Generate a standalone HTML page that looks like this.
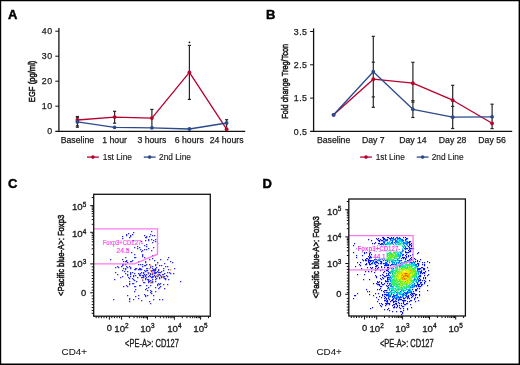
<!DOCTYPE html>
<html><head><meta charset="utf-8"><style>
html,body{margin:0;padding:0;background:#fff;}
svg{display:block;font-family:"Liberation Sans",sans-serif;filter:blur(0.35px);}
</style></head><body>
<svg width="520" height="365" viewBox="0 0 520 365" font-family="Liberation Sans, sans-serif">
<rect x="0" y="0" width="520" height="365" fill="#fff"/>
<text x="8.0" y="19.4" font-size="13" text-anchor="start" fill="#000" stroke="#000" stroke-width="0.45" font-weight="bold">A</text>
<text x="266.0" y="19.4" font-size="13" text-anchor="start" fill="#000" stroke="#000" stroke-width="0.45" font-weight="bold">B</text>
<text x="7.9" y="187.7" font-size="13" text-anchor="start" fill="#000" stroke="#000" stroke-width="0.45" font-weight="bold">C</text>
<text x="262.6" y="187.7" font-size="13" text-anchor="start" fill="#000" stroke="#000" stroke-width="0.45" font-weight="bold">D</text>
<line x1="58.9" y1="27.9" x2="58.9" y2="131.9" stroke="#111" stroke-width="1.3"/>
<line x1="55.3" y1="131.3" x2="245.2" y2="131.3" stroke="#111" stroke-width="1.3"/>
<line x1="55.3" y1="31.2" x2="58.9" y2="31.2" stroke="#111" stroke-width="1"/>
<text x="52.9" y="34.3" font-size="8.8" text-anchor="end" fill="#1a1a1a" stroke="#1a1a1a" stroke-width="0.25" letter-spacing="0.7">40</text>
<line x1="55.3" y1="56.2" x2="58.9" y2="56.2" stroke="#111" stroke-width="1"/>
<text x="52.9" y="59.300000000000004" font-size="8.8" text-anchor="end" fill="#1a1a1a" stroke="#1a1a1a" stroke-width="0.25" letter-spacing="0.7">30</text>
<line x1="55.3" y1="81.2" x2="58.9" y2="81.2" stroke="#111" stroke-width="1"/>
<text x="52.9" y="84.3" font-size="8.8" text-anchor="end" fill="#1a1a1a" stroke="#1a1a1a" stroke-width="0.25" letter-spacing="0.7">20</text>
<line x1="55.3" y1="106.2" x2="58.9" y2="106.2" stroke="#111" stroke-width="1"/>
<text x="52.9" y="109.3" font-size="8.8" text-anchor="end" fill="#1a1a1a" stroke="#1a1a1a" stroke-width="0.25" letter-spacing="0.7">10</text>
<text x="52.9" y="134.29999999999998" font-size="8.8" text-anchor="end" fill="#1a1a1a" stroke="#1a1a1a" stroke-width="0.25" letter-spacing="0.7">0</text>
<text transform="translate(34.6,81.4) rotate(-90)" font-size="9.6" text-anchor="middle" fill="#1a1a1a" stroke="#1a1a1a" stroke-width="0.55" textLength="41.6" lengthAdjust="spacingAndGlyphs">EGF (pg/ml)</text>
<text x="77.4" y="143.0" font-size="8.7" text-anchor="middle" fill="#1a1a1a" stroke="#1a1a1a" stroke-width="0.25">Baseline</text>
<text x="114.6" y="143.0" font-size="8.7" text-anchor="middle" fill="#1a1a1a" stroke="#1a1a1a" stroke-width="0.25">1 hour</text>
<text x="151.9" y="143.0" font-size="8.7" text-anchor="middle" fill="#1a1a1a" stroke="#1a1a1a" stroke-width="0.25">3 hours</text>
<text x="189.3" y="143.0" font-size="8.7" text-anchor="middle" fill="#1a1a1a" stroke="#1a1a1a" stroke-width="0.25">6 hours</text>
<text x="226.6" y="143.0" font-size="8.7" text-anchor="middle" fill="#1a1a1a" stroke="#1a1a1a" stroke-width="0.25">24 hours</text>
<line x1="77.4" y1="116.5" x2="77.4" y2="127.2" stroke="#262626" stroke-width="1.2"/>
<line x1="75.80000000000001" y1="116.5" x2="79.0" y2="116.5" stroke="#262626" stroke-width="1.2"/>
<line x1="75.80000000000001" y1="117.8" x2="79.0" y2="117.8" stroke="#262626" stroke-width="1.2"/>
<line x1="75.80000000000001" y1="125.9" x2="79.0" y2="125.9" stroke="#262626" stroke-width="1.2"/>
<line x1="75.80000000000001" y1="127.2" x2="79.0" y2="127.2" stroke="#262626" stroke-width="1.2"/>
<line x1="114.6" y1="111.3" x2="114.6" y2="123.2" stroke="#262626" stroke-width="1.2"/>
<line x1="113.0" y1="111.3" x2="116.19999999999999" y2="111.3" stroke="#262626" stroke-width="1.2"/>
<line x1="113.0" y1="123.2" x2="116.19999999999999" y2="123.2" stroke="#262626" stroke-width="1.2"/>
<line x1="151.9" y1="109.4" x2="151.9" y2="127.5" stroke="#262626" stroke-width="1.2"/>
<line x1="150.3" y1="109.4" x2="153.5" y2="109.4" stroke="#262626" stroke-width="1.2"/>
<line x1="189.4" y1="45.4" x2="189.4" y2="99.4" stroke="#262626" stroke-width="1.2"/>
<line x1="187.8" y1="45.4" x2="191.0" y2="45.4" stroke="#262626" stroke-width="1.2"/>
<line x1="187.8" y1="99.4" x2="191.0" y2="99.4" stroke="#262626" stroke-width="1.2"/>
<circle cx="189.4" cy="42.3" r="0.9" fill="#111"/>
<line x1="226.6" y1="119.7" x2="226.6" y2="127.5" stroke="#262626" stroke-width="1.2"/>
<line x1="225.0" y1="119.7" x2="228.2" y2="119.7" stroke="#262626" stroke-width="1.2"/>
<polyline points="77.4,120.0 114.6,117.1 151.9,118.1 189.4,72.4 226.6,129.2" fill="none" stroke="#b8002e" stroke-width="1.3" stroke-linejoin="round"/>
<circle cx="77.4" cy="120.0" r="1.9" fill="#b8002e"/>
<circle cx="114.6" cy="117.1" r="1.9" fill="#b8002e"/>
<circle cx="151.9" cy="118.1" r="1.9" fill="#b8002e"/>
<circle cx="189.4" cy="72.4" r="1.9" fill="#b8002e"/>
<circle cx="226.6" cy="129.2" r="1.9" fill="#b8002e"/>
<polyline points="77.4,121.9 114.6,127.3 151.9,127.8 189.4,129.0 226.6,123.0" fill="none" stroke="#2b4a8b" stroke-width="1.3" stroke-linejoin="round"/>
<circle cx="77.4" cy="121.9" r="1.9" fill="#2b4a8b"/>
<circle cx="114.6" cy="127.3" r="1.9" fill="#2b4a8b"/>
<circle cx="151.9" cy="127.8" r="1.9" fill="#2b4a8b"/>
<circle cx="189.4" cy="129.0" r="1.9" fill="#2b4a8b"/>
<circle cx="226.6" cy="123.0" r="1.9" fill="#2b4a8b"/>
<line x1="87.0" y1="157.1" x2="98.8" y2="157.1" stroke="#b8002e" stroke-width="1.3"/>
<circle cx="92.9" cy="157.1" r="1.8" fill="#b8002e"/>
<text x="102.8" y="160.4" font-size="8.3" text-anchor="start" fill="#1a1a1a" stroke="#1a1a1a" stroke-width="0.15">1st Line</text>
<line x1="143.8" y1="157.1" x2="155.60000000000002" y2="157.1" stroke="#2b4a8b" stroke-width="1.3"/>
<circle cx="149.70000000000002" cy="157.1" r="1.8" fill="#2b4a8b"/>
<text x="159.1" y="160.4" font-size="8.3" text-anchor="start" fill="#1a1a1a" stroke="#1a1a1a" stroke-width="0.15">2nd Line</text>
<line x1="313.6" y1="28.4" x2="313.6" y2="132.0" stroke="#111" stroke-width="1.3"/>
<line x1="310.1" y1="131.4" x2="512.2" y2="131.4" stroke="#111" stroke-width="1.3"/>
<line x1="310.1" y1="31.5" x2="313.6" y2="31.5" stroke="#111" stroke-width="1"/>
<text x="307.5" y="34.6" font-size="8.8" text-anchor="end" fill="#1a1a1a" stroke="#1a1a1a" stroke-width="0.25" letter-spacing="0.5">3.5</text>
<line x1="310.1" y1="64.8" x2="313.6" y2="64.8" stroke="#111" stroke-width="1"/>
<text x="307.5" y="67.89999999999999" font-size="8.8" text-anchor="end" fill="#1a1a1a" stroke="#1a1a1a" stroke-width="0.25" letter-spacing="0.5">2.5</text>
<line x1="310.1" y1="98.1" x2="313.6" y2="98.1" stroke="#111" stroke-width="1"/>
<text x="307.5" y="101.19999999999999" font-size="8.8" text-anchor="end" fill="#1a1a1a" stroke="#1a1a1a" stroke-width="0.25" letter-spacing="0.5">1.5</text>
<text x="307.5" y="134.49999999999997" font-size="8.8" text-anchor="end" fill="#1a1a1a" stroke="#1a1a1a" stroke-width="0.25" letter-spacing="0.5">0.5</text>
<text transform="translate(287.6,81.25) rotate(-90)" font-size="9.6" text-anchor="middle" fill="#1a1a1a" stroke="#1a1a1a" stroke-width="0.55" textLength="74.9" lengthAdjust="spacingAndGlyphs">Fold change Treg/Tcon</text>
<text x="333.6" y="143.0" font-size="8.7" text-anchor="middle" fill="#1a1a1a" stroke="#1a1a1a" stroke-width="0.25">Baseline</text>
<text x="373.3" y="143.0" font-size="8.7" text-anchor="middle" fill="#1a1a1a" stroke="#1a1a1a" stroke-width="0.25">Day 7</text>
<text x="412.9" y="143.0" font-size="8.7" text-anchor="middle" fill="#1a1a1a" stroke="#1a1a1a" stroke-width="0.25">Day 14</text>
<text x="452.6" y="143.0" font-size="8.7" text-anchor="middle" fill="#1a1a1a" stroke="#1a1a1a" stroke-width="0.25">Day 28</text>
<text x="492.1" y="143.0" font-size="8.7" text-anchor="middle" fill="#1a1a1a" stroke="#1a1a1a" stroke-width="0.25">Day 56</text>
<line x1="373.3" y1="36.3" x2="373.3" y2="107.3" stroke="#262626" stroke-width="1.2"/>
<line x1="371.7" y1="36.3" x2="374.90000000000003" y2="36.3" stroke="#262626" stroke-width="1.2"/>
<line x1="371.7" y1="62.2" x2="374.90000000000003" y2="62.2" stroke="#262626" stroke-width="1.2"/>
<line x1="371.7" y1="96.9" x2="374.90000000000003" y2="96.9" stroke="#262626" stroke-width="1.2"/>
<line x1="371.7" y1="107.3" x2="374.90000000000003" y2="107.3" stroke="#262626" stroke-width="1.2"/>
<line x1="412.9" y1="62.3" x2="412.9" y2="117.5" stroke="#262626" stroke-width="1.2"/>
<line x1="411.29999999999995" y1="62.3" x2="414.5" y2="62.3" stroke="#262626" stroke-width="1.2"/>
<line x1="411.29999999999995" y1="100.6" x2="414.5" y2="100.6" stroke="#262626" stroke-width="1.2"/>
<line x1="411.29999999999995" y1="102.1" x2="414.5" y2="102.1" stroke="#262626" stroke-width="1.2"/>
<line x1="411.29999999999995" y1="117.5" x2="414.5" y2="117.5" stroke="#262626" stroke-width="1.2"/>
<line x1="452.7" y1="85.3" x2="452.7" y2="128.5" stroke="#262626" stroke-width="1.2"/>
<line x1="451.09999999999997" y1="85.3" x2="454.3" y2="85.3" stroke="#262626" stroke-width="1.2"/>
<line x1="451.09999999999997" y1="106.4" x2="454.3" y2="106.4" stroke="#262626" stroke-width="1.2"/>
<line x1="451.09999999999997" y1="128.5" x2="454.3" y2="128.5" stroke="#262626" stroke-width="1.2"/>
<line x1="492.1" y1="104.2" x2="492.1" y2="128.6" stroke="#262626" stroke-width="1.2"/>
<line x1="490.5" y1="104.2" x2="493.70000000000005" y2="104.2" stroke="#262626" stroke-width="1.2"/>
<line x1="490.5" y1="128.6" x2="493.70000000000005" y2="128.6" stroke="#262626" stroke-width="1.2"/>
<polyline points="333.6,114.8 373.3,79.2 412.9,83.2 452.7,100.2 492.1,123.3" fill="none" stroke="#b8002e" stroke-width="1.3" stroke-linejoin="round"/>
<circle cx="333.6" cy="114.8" r="1.9" fill="#b8002e"/>
<circle cx="373.3" cy="79.2" r="1.9" fill="#b8002e"/>
<circle cx="412.9" cy="83.2" r="1.9" fill="#b8002e"/>
<circle cx="452.7" cy="100.2" r="1.9" fill="#b8002e"/>
<circle cx="492.1" cy="123.3" r="1.9" fill="#b8002e"/>
<polyline points="333.6,114.8 373.3,71.7 412.9,109.3 452.7,117.2 492.1,116.8" fill="none" stroke="#2b4a8b" stroke-width="1.3" stroke-linejoin="round"/>
<circle cx="333.6" cy="114.8" r="1.9" fill="#2b4a8b"/>
<circle cx="373.3" cy="71.7" r="1.9" fill="#2b4a8b"/>
<circle cx="412.9" cy="109.3" r="1.9" fill="#2b4a8b"/>
<circle cx="452.7" cy="117.2" r="1.9" fill="#2b4a8b"/>
<circle cx="492.1" cy="116.8" r="1.9" fill="#2b4a8b"/>
<line x1="360.1" y1="157.1" x2="371.90000000000003" y2="157.1" stroke="#b8002e" stroke-width="1.3"/>
<circle cx="366.0" cy="157.1" r="1.8" fill="#b8002e"/>
<text x="375.7" y="160.4" font-size="8.3" text-anchor="start" fill="#1a1a1a" stroke="#1a1a1a" stroke-width="0.15">1st Line</text>
<line x1="416.7" y1="157.1" x2="428.5" y2="157.1" stroke="#2b4a8b" stroke-width="1.3"/>
<circle cx="422.59999999999997" cy="157.1" r="1.8" fill="#2b4a8b"/>
<text x="431.7" y="160.4" font-size="8.3" text-anchor="start" fill="#1a1a1a" stroke="#1a1a1a" stroke-width="0.15">2nd Line</text>
<path d="M148 281h1.3v1.3h-1.3zM163 270h1.3v1.3h-1.3zM144 270h1.3v1.3h-1.3zM155 273h1.3v1.3h-1.3zM157 262h1.3v1.3h-1.3zM167 272h1.3v1.3h-1.3zM156 272h1.3v1.3h-1.3zM143 276h1.3v1.3h-1.3zM158 272h1.3v1.3h-1.3zM146 277h1.3v1.3h-1.3zM138 264h1.3v1.3h-1.3zM153 269h1.3v1.3h-1.3zM125 268h1.3v1.3h-1.3zM142 266h1.3v1.3h-1.3zM130 273h1.3v1.3h-1.3zM159 272h1.3v1.3h-1.3zM139 275h1.3v1.3h-1.3zM157 271h1.3v1.3h-1.3zM155 279h1.3v1.3h-1.3zM146 268h1.3v1.3h-1.3zM152 274h1.3v1.3h-1.3zM161 265h1.3v1.3h-1.3zM140 268h1.3v1.3h-1.3zM127 274h1.3v1.3h-1.3zM154 269h1.3v1.3h-1.3zM165 278h1.3v1.3h-1.3zM156 275h1.3v1.3h-1.3zM159 265h1.3v1.3h-1.3zM155 277h1.3v1.3h-1.3zM127 275h1.3v1.3h-1.3zM145 278h1.3v1.3h-1.3zM143 273h1.3v1.3h-1.3zM152 268h1.3v1.3h-1.3zM155 272h1.3v1.3h-1.3zM154 270h1.3v1.3h-1.3zM161 277h1.3v1.3h-1.3zM146 277h1.3v1.3h-1.3zM163 284h1.3v1.3h-1.3zM129 278h1.3v1.3h-1.3zM154 272h1.3v1.3h-1.3zM136 281h1.3v1.3h-1.3zM133 276h1.3v1.3h-1.3zM164 263h1.3v1.3h-1.3zM144 265h1.3v1.3h-1.3zM151 282h1.3v1.3h-1.3zM172 262h1.3v1.3h-1.3zM141 277h1.3v1.3h-1.3zM167 276h1.3v1.3h-1.3zM139 275h1.3v1.3h-1.3zM148 272h1.3v1.3h-1.3zM139 275h1.3v1.3h-1.3zM152 272h1.3v1.3h-1.3zM145 265h1.3v1.3h-1.3zM142 280h1.3v1.3h-1.3zM146 264h1.3v1.3h-1.3zM164 276h1.3v1.3h-1.3zM173 273h1.3v1.3h-1.3zM142 264h1.3v1.3h-1.3zM164 288h1.3v1.3h-1.3zM138 269h1.3v1.3h-1.3zM155 268h1.3v1.3h-1.3zM145 271h1.3v1.3h-1.3zM150 280h1.3v1.3h-1.3zM148 279h1.3v1.3h-1.3zM143 275h1.3v1.3h-1.3zM122 264h1.3v1.3h-1.3zM158 269h1.3v1.3h-1.3zM155 276h1.3v1.3h-1.3zM164 278h1.3v1.3h-1.3zM160 272h1.3v1.3h-1.3zM140 269h1.3v1.3h-1.3zM142 266h1.3v1.3h-1.3zM141 272h1.3v1.3h-1.3zM151 271h1.3v1.3h-1.3zM125 273h1.3v1.3h-1.3zM151 280h1.3v1.3h-1.3zM155 269h1.3v1.3h-1.3zM139 285h1.3v1.3h-1.3zM157 284h1.3v1.3h-1.3zM174 268h1.3v1.3h-1.3zM153 276h1.3v1.3h-1.3zM155 276h1.3v1.3h-1.3zM150 274h1.3v1.3h-1.3zM130 272h1.3v1.3h-1.3zM139 274h1.3v1.3h-1.3zM142 277h1.3v1.3h-1.3zM158 275h1.3v1.3h-1.3zM152 274h1.3v1.3h-1.3zM143 272h1.3v1.3h-1.3zM142 275h1.3v1.3h-1.3zM148 276h1.3v1.3h-1.3zM132 278h1.3v1.3h-1.3zM139 269h1.3v1.3h-1.3zM146 270h1.3v1.3h-1.3zM151 270h1.3v1.3h-1.3zM135 268h1.3v1.3h-1.3zM164 273h1.3v1.3h-1.3zM134 273h1.3v1.3h-1.3zM129 284h1.3v1.3h-1.3zM130 276h1.3v1.3h-1.3zM155 264h1.3v1.3h-1.3zM152 279h1.3v1.3h-1.3zM154 275h1.3v1.3h-1.3zM159 274h1.3v1.3h-1.3zM152 272h1.3v1.3h-1.3zM156 267h1.3v1.3h-1.3zM158 270h1.3v1.3h-1.3zM135 275h1.3v1.3h-1.3zM168 279h1.3v1.3h-1.3zM142 277h1.3v1.3h-1.3zM143 272h1.3v1.3h-1.3zM149 259h1.3v1.3h-1.3zM150 267h1.3v1.3h-1.3zM140 264h1.3v1.3h-1.3zM130 267h1.3v1.3h-1.3zM158 283h1.3v1.3h-1.3zM148 280h1.3v1.3h-1.3zM145 262h1.3v1.3h-1.3zM150 276h1.3v1.3h-1.3zM143 275h1.3v1.3h-1.3zM155 268h1.3v1.3h-1.3zM130 272h1.3v1.3h-1.3zM145 271h1.3v1.3h-1.3zM160 283h1.3v1.3h-1.3zM143 277h1.3v1.3h-1.3zM159 277h1.3v1.3h-1.3zM161 271h1.3v1.3h-1.3zM157 285h1.3v1.3h-1.3zM158 269h1.3v1.3h-1.3zM155 281h1.3v1.3h-1.3zM152 270h1.3v1.3h-1.3zM167 266h1.3v1.3h-1.3zM154 273h1.3v1.3h-1.3zM134 280h1.3v1.3h-1.3zM152 266h1.3v1.3h-1.3zM155 270h1.3v1.3h-1.3zM125 269h1.3v1.3h-1.3zM151 277h1.3v1.3h-1.3zM150 273h1.3v1.3h-1.3zM154 272h1.3v1.3h-1.3zM162 274h1.3v1.3h-1.3zM152 276h1.3v1.3h-1.3zM135 269h1.3v1.3h-1.3zM166 275h1.3v1.3h-1.3zM145 275h1.3v1.3h-1.3zM142 275h1.3v1.3h-1.3zM140 275h1.3v1.3h-1.3zM129 281h1.3v1.3h-1.3zM142 264h1.3v1.3h-1.3zM145 271h1.3v1.3h-1.3zM150 266h1.3v1.3h-1.3zM153 295h1.3v1.3h-1.3zM133 275h1.3v1.3h-1.3zM144 274h1.3v1.3h-1.3zM126 266h1.3v1.3h-1.3zM154 273h1.3v1.3h-1.3zM168 269h1.3v1.3h-1.3zM150 290h1.3v1.3h-1.3zM139 268h1.3v1.3h-1.3zM148 273h1.3v1.3h-1.3zM158 274h1.3v1.3h-1.3zM139 274h1.3v1.3h-1.3zM180 281h1.3v1.3h-1.3zM115 272h1.3v1.3h-1.3zM137 277h1.3v1.3h-1.3zM146 285h1.3v1.3h-1.3zM159 278h1.3v1.3h-1.3zM150 273h1.3v1.3h-1.3zM152 281h1.3v1.3h-1.3zM154 271h1.3v1.3h-1.3zM163 274h1.3v1.3h-1.3zM147 268h1.3v1.3h-1.3zM141 269h1.3v1.3h-1.3zM114 279h1.3v1.3h-1.3zM155 272h1.3v1.3h-1.3zM161 276h1.3v1.3h-1.3zM152 258h1.3v1.3h-1.3zM145 276h1.3v1.3h-1.3zM167 284h1.3v1.3h-1.3zM165 266h1.3v1.3h-1.3zM122 276h1.3v1.3h-1.3zM148 279h1.3v1.3h-1.3zM146 274h1.3v1.3h-1.3zM130 276h1.3v1.3h-1.3zM143 275h1.3v1.3h-1.3zM154 272h1.3v1.3h-1.3zM152 273h1.3v1.3h-1.3zM157 276h1.3v1.3h-1.3zM141 269h1.3v1.3h-1.3zM169 272h1.3v1.3h-1.3zM160 275h1.3v1.3h-1.3zM141 269h1.3v1.3h-1.3zM149 275h1.3v1.3h-1.3zM155 265h1.3v1.3h-1.3zM141 272h1.3v1.3h-1.3zM167 259h1.3v1.3h-1.3zM153 270h1.3v1.3h-1.3zM153 270h1.3v1.3h-1.3zM152 282h1.3v1.3h-1.3zM152 276h1.3v1.3h-1.3zM152 268h1.3v1.3h-1.3zM155 272h1.3v1.3h-1.3zM138 273h1.3v1.3h-1.3zM145 278h1.3v1.3h-1.3zM147 270h1.3v1.3h-1.3zM165 279h1.3v1.3h-1.3zM163 277h1.3v1.3h-1.3zM147 270h1.3v1.3h-1.3zM145 279h1.3v1.3h-1.3zM149 264h1.3v1.3h-1.3zM126 261h1.3v1.3h-1.3zM127 262h1.3v1.3h-1.3zM118 267h1.3v1.3h-1.3zM126 260h1.3v1.3h-1.3zM130 276h1.3v1.3h-1.3zM117 274h1.3v1.3h-1.3zM122 265h1.3v1.3h-1.3zM125 261h1.3v1.3h-1.3zM134 269h1.3v1.3h-1.3zM121 266h1.3v1.3h-1.3zM117 266h1.3v1.3h-1.3zM132 260h1.3v1.3h-1.3zM123 268h1.3v1.3h-1.3zM132 272h1.3v1.3h-1.3zM123 264h1.3v1.3h-1.3zM129 266h1.3v1.3h-1.3zM124 271h1.3v1.3h-1.3zM136 268h1.3v1.3h-1.3zM125 269h1.3v1.3h-1.3zM115 267h1.3v1.3h-1.3zM120 277h1.3v1.3h-1.3zM130 268h1.3v1.3h-1.3zM125 257h1.3v1.3h-1.3zM130 274h1.3v1.3h-1.3zM122 270h1.3v1.3h-1.3zM130 261h1.3v1.3h-1.3zM132 272h1.3v1.3h-1.3zM127 267h1.3v1.3h-1.3zM131 261h1.3v1.3h-1.3zM127 271h1.3v1.3h-1.3zM129 298h1.3v1.3h-1.3zM140 273h1.3v1.3h-1.3zM144 282h1.3v1.3h-1.3zM149 281h1.3v1.3h-1.3zM159 284h1.3v1.3h-1.3zM150 285h1.3v1.3h-1.3zM141 300h1.3v1.3h-1.3zM148 287h1.3v1.3h-1.3zM129 299h1.3v1.3h-1.3zM155 287h1.3v1.3h-1.3zM148 282h1.3v1.3h-1.3zM132 283h1.3v1.3h-1.3zM150 292h1.3v1.3h-1.3zM135 296h1.3v1.3h-1.3zM155 291h1.3v1.3h-1.3zM158 288h1.3v1.3h-1.3zM144 294h1.3v1.3h-1.3zM145 296h1.3v1.3h-1.3zM129 301h1.3v1.3h-1.3zM135 289h1.3v1.3h-1.3zM127 295h1.3v1.3h-1.3zM162 299h1.3v1.3h-1.3zM156 278h1.3v1.3h-1.3zM135 286h1.3v1.3h-1.3zM133 299h1.3v1.3h-1.3zM147 290h1.3v1.3h-1.3zM151 282h1.3v1.3h-1.3zM133 283h1.3v1.3h-1.3zM151 293h1.3v1.3h-1.3zM153 299h1.3v1.3h-1.3zM127 286h1.3v1.3h-1.3zM147 279h1.3v1.3h-1.3zM138 298h1.3v1.3h-1.3zM159 299h1.3v1.3h-1.3zM146 288h1.3v1.3h-1.3zM159 287h1.3v1.3h-1.3zM149 301h1.3v1.3h-1.3zM140 285h1.3v1.3h-1.3zM145 295h1.3v1.3h-1.3zM151 291h1.3v1.3h-1.3zM152 277h1.3v1.3h-1.3zM134 291h1.3v1.3h-1.3zM133 279h1.3v1.3h-1.3zM129 283h1.3v1.3h-1.3zM143 282h1.3v1.3h-1.3zM144 257h1.3v1.3h-1.3zM142 255h1.3v1.3h-1.3zM145 240h1.3v1.3h-1.3zM141 241h1.3v1.3h-1.3zM148 240h1.3v1.3h-1.3zM151 250h1.3v1.3h-1.3zM131 252h1.3v1.3h-1.3zM152 242h1.3v1.3h-1.3zM149 236h1.3v1.3h-1.3zM145 237h1.3v1.3h-1.3zM146 236h1.3v1.3h-1.3zM127 249h1.3v1.3h-1.3zM157 243h1.3v1.3h-1.3zM148 248h1.3v1.3h-1.3zM141 251h1.3v1.3h-1.3zM153 240h1.3v1.3h-1.3zM146 249h1.3v1.3h-1.3zM134 257h1.3v1.3h-1.3zM155 241h1.3v1.3h-1.3zM153 247h1.3v1.3h-1.3zM142 256h1.3v1.3h-1.3zM144 249h1.3v1.3h-1.3zM152 255h1.3v1.3h-1.3zM148 239h1.3v1.3h-1.3zM134 254h1.3v1.3h-1.3zM137 248h1.3v1.3h-1.3zM137 246h1.3v1.3h-1.3zM135 257h1.3v1.3h-1.3zM137 246h1.3v1.3h-1.3zM142 254h1.3v1.3h-1.3zM134 247h1.3v1.3h-1.3zM142 250h1.3v1.3h-1.3zM146 244h1.3v1.3h-1.3zM144 245h1.3v1.3h-1.3zM146 246h1.3v1.3h-1.3zM139 247h1.3v1.3h-1.3zM145 261h1.3v1.3h-1.3zM140 249h1.3v1.3h-1.3zM152 235h1.3v1.3h-1.3zM133 240h1.3v1.3h-1.3zM133 232h1.3v1.3h-1.3zM122 236h1.3v1.3h-1.3zM129 237h1.3v1.3h-1.3zM150 234h1.3v1.3h-1.3zM155 239h1.3v1.3h-1.3zM132 234h1.3v1.3h-1.3zM151 239h1.3v1.3h-1.3zM151 231h1.3v1.3h-1.3zM126 234h1.3v1.3h-1.3zM128 233h1.3v1.3h-1.3zM144 235h1.3v1.3h-1.3zM130 235h1.3v1.3h-1.3zM154 235h1.3v1.3h-1.3zM132 240h1.3v1.3h-1.3zM146 237h1.3v1.3h-1.3zM145 237h1.3v1.3h-1.3zM126 235h1.3v1.3h-1.3zM151 239h1.3v1.3h-1.3zM130 236h1.3v1.3h-1.3zM122 238h1.3v1.3h-1.3zM170 261h1.3v1.3h-1.3zM150 303h1.3v1.3h-1.3zM138 295h1.3v1.3h-1.3zM126 285h1.3v1.3h-1.3zM170 273h1.3v1.3h-1.3zM160 286h1.3v1.3h-1.3zM162 276h1.3v1.3h-1.3zM123 261h1.3v1.3h-1.3zM138 261h1.3v1.3h-1.3zM168 257h1.3v1.3h-1.3zM125 264h1.3v1.3h-1.3zM163 268h1.3v1.3h-1.3zM145 289h1.3v1.3h-1.3zM123 286h1.3v1.3h-1.3zM134 286h1.3v1.3h-1.3zM113 299h1.3v1.3h-1.3zM154 260h1.3v1.3h-1.3zM157 276h1.3v1.3h-1.3zM110 259h1.3v1.3h-1.3zM128 277h1.3v1.3h-1.3zM160 259h1.3v1.3h-1.3zM122 259h1.3v1.3h-1.3zM145 261h1.3v1.3h-1.3zM163 276h1.3v1.3h-1.3zM147 295h1.3v1.3h-1.3z" fill="#2a2af2"/>
<path d="M153 271h1.4v1.4h-1.4zM142 279h1.4v1.4h-1.4zM147 272h1.4v1.4h-1.4zM150 270h1.4v1.4h-1.4zM162 276h1.4v1.4h-1.4zM149 268h1.4v1.4h-1.4zM151 280h1.4v1.4h-1.4zM156 275h1.4v1.4h-1.4zM152 272h1.4v1.4h-1.4zM157 263h1.4v1.4h-1.4zM170 269h1.4v1.4h-1.4zM150 282h1.4v1.4h-1.4zM157 274h1.4v1.4h-1.4zM150 265h1.4v1.4h-1.4z" fill="#ff9640"/>
<path d="M93.7 228.8H157.5V254.2L134.5 263.8H93.7" fill="none" stroke="#ff78f2" stroke-width="1.3"/>
<text x="123" y="245.0" font-size="6.6" text-anchor="middle" fill="#ff50ee" stroke="#ff50ee" stroke-width="0.2" textLength="40.6" lengthAdjust="spacingAndGlyphs">Foxp3+CD127-</text>
<text x="123" y="252.9" font-size="6.6" text-anchor="middle" fill="#ff50ee" stroke="#ff50ee" stroke-width="0.2">24.5</text>
<path d="M382 237h1.15v1.15h-1.15zM383 237h1.15v1.15h-1.15zM387 237h1.15v1.15h-1.15zM388 237h1.15v1.15h-1.15zM391 237h1.15v1.15h-1.15zM393 237h1.15v1.15h-1.15zM403 237h1.15v1.15h-1.15zM405 237h1.15v1.15h-1.15zM376 238h1.15v1.15h-1.15zM378 238h1.15v1.15h-1.15zM383 238h1.15v1.15h-1.15zM384 238h1.15v1.15h-1.15zM389 238h1.15v1.15h-1.15zM390 238h1.15v1.15h-1.15zM406 238h1.15v1.15h-1.15zM407 238h1.15v1.15h-1.15zM368 239h1.15v1.15h-1.15zM377 239h1.15v1.15h-1.15zM380 239h1.15v1.15h-1.15zM383 239h1.15v1.15h-1.15zM387 239h1.15v1.15h-1.15zM405 239h1.15v1.15h-1.15zM371 240h1.15v1.15h-1.15zM378 240h1.15v1.15h-1.15zM379 240h1.15v1.15h-1.15zM381 240h1.15v1.15h-1.15zM382 240h1.15v1.15h-1.15zM386 240h1.15v1.15h-1.15zM392 240h1.15v1.15h-1.15zM379 241h1.15v1.15h-1.15zM409 241h1.15v1.15h-1.15zM410 241h1.15v1.15h-1.15zM375 242h1.15v1.15h-1.15zM408 242h1.15v1.15h-1.15zM409 242h1.15v1.15h-1.15zM354 243h1.15v1.15h-1.15zM372 243h1.15v1.15h-1.15zM374 243h1.15v1.15h-1.15zM378 243h1.15v1.15h-1.15zM379 243h1.15v1.15h-1.15zM381 243h1.15v1.15h-1.15zM382 243h1.15v1.15h-1.15zM411 243h1.15v1.15h-1.15zM380 244h1.15v1.15h-1.15zM409 244h1.15v1.15h-1.15zM410 244h1.15v1.15h-1.15zM353 245h1.15v1.15h-1.15zM377 245h1.15v1.15h-1.15zM409 245h1.15v1.15h-1.15zM411 245h1.15v1.15h-1.15zM359 246h1.15v1.15h-1.15zM369 246h1.15v1.15h-1.15zM371 246h1.15v1.15h-1.15zM372 246h1.15v1.15h-1.15zM375 246h1.15v1.15h-1.15zM376 246h1.15v1.15h-1.15zM378 246h1.15v1.15h-1.15zM379 246h1.15v1.15h-1.15zM381 246h1.15v1.15h-1.15zM408 246h1.15v1.15h-1.15zM411 246h1.15v1.15h-1.15zM365 247h1.15v1.15h-1.15zM376 247h1.15v1.15h-1.15zM378 247h1.15v1.15h-1.15zM383 247h1.15v1.15h-1.15zM384 247h1.15v1.15h-1.15zM409 247h1.15v1.15h-1.15zM356 248h1.15v1.15h-1.15zM363 248h1.15v1.15h-1.15zM364 248h1.15v1.15h-1.15zM368 248h1.15v1.15h-1.15zM370 248h1.15v1.15h-1.15zM371 248h1.15v1.15h-1.15zM375 248h1.15v1.15h-1.15zM377 248h1.15v1.15h-1.15zM382 248h1.15v1.15h-1.15zM406 248h1.15v1.15h-1.15zM407 248h1.15v1.15h-1.15zM410 248h1.15v1.15h-1.15zM411 248h1.15v1.15h-1.15zM412 248h1.15v1.15h-1.15zM413 248h1.15v1.15h-1.15zM363 249h1.15v1.15h-1.15zM364 249h1.15v1.15h-1.15zM368 249h1.15v1.15h-1.15zM373 249h1.15v1.15h-1.15zM377 249h1.15v1.15h-1.15zM379 249h1.15v1.15h-1.15zM383 249h1.15v1.15h-1.15zM368 250h1.15v1.15h-1.15zM369 250h1.15v1.15h-1.15zM375 250h1.15v1.15h-1.15zM378 250h1.15v1.15h-1.15zM381 250h1.15v1.15h-1.15zM383 250h1.15v1.15h-1.15zM408 250h1.15v1.15h-1.15zM410 250h1.15v1.15h-1.15zM362 251h1.15v1.15h-1.15zM374 251h1.15v1.15h-1.15zM376 251h1.15v1.15h-1.15zM379 251h1.15v1.15h-1.15zM380 251h1.15v1.15h-1.15zM405 251h1.15v1.15h-1.15zM409 251h1.15v1.15h-1.15zM410 251h1.15v1.15h-1.15zM353 252h1.15v1.15h-1.15zM364 252h1.15v1.15h-1.15zM366 252h1.15v1.15h-1.15zM370 252h1.15v1.15h-1.15zM377 252h1.15v1.15h-1.15zM378 252h1.15v1.15h-1.15zM380 252h1.15v1.15h-1.15zM381 252h1.15v1.15h-1.15zM405 252h1.15v1.15h-1.15zM406 252h1.15v1.15h-1.15zM407 252h1.15v1.15h-1.15zM408 252h1.15v1.15h-1.15zM418 252h1.15v1.15h-1.15zM364 253h1.15v1.15h-1.15zM369 253h1.15v1.15h-1.15zM373 253h1.15v1.15h-1.15zM374 253h1.15v1.15h-1.15zM375 253h1.15v1.15h-1.15zM381 253h1.15v1.15h-1.15zM417 253h1.15v1.15h-1.15zM369 254h1.15v1.15h-1.15zM371 254h1.15v1.15h-1.15zM377 254h1.15v1.15h-1.15zM403 254h1.15v1.15h-1.15zM406 254h1.15v1.15h-1.15zM412 254h1.15v1.15h-1.15zM356 255h1.15v1.15h-1.15zM362 255h1.15v1.15h-1.15zM369 255h1.15v1.15h-1.15zM373 255h1.15v1.15h-1.15zM377 255h1.15v1.15h-1.15zM380 255h1.15v1.15h-1.15zM402 255h1.15v1.15h-1.15zM405 255h1.15v1.15h-1.15zM408 255h1.15v1.15h-1.15zM410 255h1.15v1.15h-1.15zM368 256h1.15v1.15h-1.15zM370 256h1.15v1.15h-1.15zM376 256h1.15v1.15h-1.15zM406 256h1.15v1.15h-1.15zM408 256h1.15v1.15h-1.15zM356 257h1.15v1.15h-1.15zM369 257h1.15v1.15h-1.15zM370 257h1.15v1.15h-1.15zM371 257h1.15v1.15h-1.15zM402 257h1.15v1.15h-1.15zM403 257h1.15v1.15h-1.15zM404 257h1.15v1.15h-1.15zM406 257h1.15v1.15h-1.15zM411 257h1.15v1.15h-1.15zM366 258h1.15v1.15h-1.15zM367 258h1.15v1.15h-1.15zM369 258h1.15v1.15h-1.15zM374 258h1.15v1.15h-1.15zM403 258h1.15v1.15h-1.15zM405 258h1.15v1.15h-1.15zM410 258h1.15v1.15h-1.15zM414 258h1.15v1.15h-1.15zM362 259h1.15v1.15h-1.15zM365 259h1.15v1.15h-1.15zM368 259h1.15v1.15h-1.15zM374 259h1.15v1.15h-1.15zM405 259h1.15v1.15h-1.15zM409 259h1.15v1.15h-1.15zM411 259h1.15v1.15h-1.15zM415 259h1.15v1.15h-1.15zM420 259h1.15v1.15h-1.15zM363 260h1.15v1.15h-1.15zM365 260h1.15v1.15h-1.15zM366 260h1.15v1.15h-1.15zM368 260h1.15v1.15h-1.15zM369 260h1.15v1.15h-1.15zM370 260h1.15v1.15h-1.15zM371 260h1.15v1.15h-1.15zM407 260h1.15v1.15h-1.15zM410 260h1.15v1.15h-1.15zM417 260h1.15v1.15h-1.15zM368 261h1.15v1.15h-1.15zM370 261h1.15v1.15h-1.15zM376 261h1.15v1.15h-1.15zM380 261h1.15v1.15h-1.15zM381 261h1.15v1.15h-1.15zM415 261h1.15v1.15h-1.15zM417 261h1.15v1.15h-1.15zM419 261h1.15v1.15h-1.15zM427 261h1.15v1.15h-1.15zM357 262h1.15v1.15h-1.15zM360 262h1.15v1.15h-1.15zM368 262h1.15v1.15h-1.15zM369 262h1.15v1.15h-1.15zM376 262h1.15v1.15h-1.15zM377 262h1.15v1.15h-1.15zM381 262h1.15v1.15h-1.15zM422 262h1.15v1.15h-1.15zM424 262h1.15v1.15h-1.15zM429 262h1.15v1.15h-1.15zM366 263h1.15v1.15h-1.15zM369 263h1.15v1.15h-1.15zM371 263h1.15v1.15h-1.15zM374 263h1.15v1.15h-1.15zM378 263h1.15v1.15h-1.15zM380 263h1.15v1.15h-1.15zM381 263h1.15v1.15h-1.15zM383 263h1.15v1.15h-1.15zM417 263h1.15v1.15h-1.15zM418 263h1.15v1.15h-1.15zM359 264h1.15v1.15h-1.15zM365 264h1.15v1.15h-1.15zM366 264h1.15v1.15h-1.15zM369 264h1.15v1.15h-1.15zM370 264h1.15v1.15h-1.15zM375 264h1.15v1.15h-1.15zM385 264h1.15v1.15h-1.15zM388 264h1.15v1.15h-1.15zM391 264h1.15v1.15h-1.15zM392 264h1.15v1.15h-1.15zM418 264h1.15v1.15h-1.15zM422 264h1.15v1.15h-1.15zM424 264h1.15v1.15h-1.15zM360 265h1.15v1.15h-1.15zM376 265h1.15v1.15h-1.15zM377 265h1.15v1.15h-1.15zM384 265h1.15v1.15h-1.15zM385 265h1.15v1.15h-1.15zM386 265h1.15v1.15h-1.15zM387 265h1.15v1.15h-1.15zM388 265h1.15v1.15h-1.15zM390 265h1.15v1.15h-1.15zM418 265h1.15v1.15h-1.15zM424 265h1.15v1.15h-1.15zM355 266h1.15v1.15h-1.15zM375 266h1.15v1.15h-1.15zM376 266h1.15v1.15h-1.15zM381 266h1.15v1.15h-1.15zM417 266h1.15v1.15h-1.15zM367 267h1.15v1.15h-1.15zM370 267h1.15v1.15h-1.15zM372 267h1.15v1.15h-1.15zM378 267h1.15v1.15h-1.15zM381 267h1.15v1.15h-1.15zM384 267h1.15v1.15h-1.15zM387 267h1.15v1.15h-1.15zM388 267h1.15v1.15h-1.15zM391 267h1.15v1.15h-1.15zM421 267h1.15v1.15h-1.15zM422 267h1.15v1.15h-1.15zM427 267h1.15v1.15h-1.15zM361 268h1.15v1.15h-1.15zM371 268h1.15v1.15h-1.15zM375 268h1.15v1.15h-1.15zM377 268h1.15v1.15h-1.15zM387 268h1.15v1.15h-1.15zM419 268h1.15v1.15h-1.15zM420 268h1.15v1.15h-1.15zM423 268h1.15v1.15h-1.15zM424 268h1.15v1.15h-1.15zM376 269h1.15v1.15h-1.15zM382 269h1.15v1.15h-1.15zM387 269h1.15v1.15h-1.15zM388 269h1.15v1.15h-1.15zM418 269h1.15v1.15h-1.15zM419 269h1.15v1.15h-1.15zM423 269h1.15v1.15h-1.15zM424 269h1.15v1.15h-1.15zM375 270h1.15v1.15h-1.15zM380 270h1.15v1.15h-1.15zM386 270h1.15v1.15h-1.15zM387 270h1.15v1.15h-1.15zM421 270h1.15v1.15h-1.15zM428 270h1.15v1.15h-1.15zM365 271h1.15v1.15h-1.15zM368 271h1.15v1.15h-1.15zM371 271h1.15v1.15h-1.15zM384 271h1.15v1.15h-1.15zM388 271h1.15v1.15h-1.15zM421 271h1.15v1.15h-1.15zM425 271h1.15v1.15h-1.15zM374 272h1.15v1.15h-1.15zM383 272h1.15v1.15h-1.15zM389 272h1.15v1.15h-1.15zM420 272h1.15v1.15h-1.15zM421 272h1.15v1.15h-1.15zM423 272h1.15v1.15h-1.15zM424 272h1.15v1.15h-1.15zM386 273h1.15v1.15h-1.15zM388 273h1.15v1.15h-1.15zM420 273h1.15v1.15h-1.15zM422 273h1.15v1.15h-1.15zM424 273h1.15v1.15h-1.15zM357 274h1.15v1.15h-1.15zM364 274h1.15v1.15h-1.15zM382 274h1.15v1.15h-1.15zM388 274h1.15v1.15h-1.15zM428 274h1.15v1.15h-1.15zM375 275h1.15v1.15h-1.15zM380 275h1.15v1.15h-1.15zM383 275h1.15v1.15h-1.15zM386 275h1.15v1.15h-1.15zM387 275h1.15v1.15h-1.15zM420 275h1.15v1.15h-1.15zM424 275h1.15v1.15h-1.15zM427 275h1.15v1.15h-1.15zM376 276h1.15v1.15h-1.15zM384 276h1.15v1.15h-1.15zM385 276h1.15v1.15h-1.15zM419 276h1.15v1.15h-1.15zM420 276h1.15v1.15h-1.15zM376 277h1.15v1.15h-1.15zM382 277h1.15v1.15h-1.15zM387 277h1.15v1.15h-1.15zM388 277h1.15v1.15h-1.15zM423 277h1.15v1.15h-1.15zM425 277h1.15v1.15h-1.15zM380 278h1.15v1.15h-1.15zM383 278h1.15v1.15h-1.15zM387 278h1.15v1.15h-1.15zM419 278h1.15v1.15h-1.15zM423 278h1.15v1.15h-1.15zM425 278h1.15v1.15h-1.15zM363 279h1.15v1.15h-1.15zM369 279h1.15v1.15h-1.15zM381 279h1.15v1.15h-1.15zM387 279h1.15v1.15h-1.15zM420 279h1.15v1.15h-1.15zM385 280h1.15v1.15h-1.15zM419 280h1.15v1.15h-1.15zM420 280h1.15v1.15h-1.15zM422 280h1.15v1.15h-1.15zM424 280h1.15v1.15h-1.15zM429 280h1.15v1.15h-1.15zM377 281h1.15v1.15h-1.15zM379 281h1.15v1.15h-1.15zM385 281h1.15v1.15h-1.15zM386 281h1.15v1.15h-1.15zM387 281h1.15v1.15h-1.15zM425 281h1.15v1.15h-1.15zM377 282h1.15v1.15h-1.15zM378 282h1.15v1.15h-1.15zM381 282h1.15v1.15h-1.15zM420 282h1.15v1.15h-1.15zM421 282h1.15v1.15h-1.15zM424 282h1.15v1.15h-1.15zM373 283h1.15v1.15h-1.15zM376 283h1.15v1.15h-1.15zM381 283h1.15v1.15h-1.15zM384 283h1.15v1.15h-1.15zM387 283h1.15v1.15h-1.15zM417 283h1.15v1.15h-1.15zM424 283h1.15v1.15h-1.15zM377 284h1.15v1.15h-1.15zM378 284h1.15v1.15h-1.15zM379 284h1.15v1.15h-1.15zM382 284h1.15v1.15h-1.15zM383 284h1.15v1.15h-1.15zM417 284h1.15v1.15h-1.15zM418 284h1.15v1.15h-1.15zM419 284h1.15v1.15h-1.15zM421 284h1.15v1.15h-1.15zM422 284h1.15v1.15h-1.15zM379 285h1.15v1.15h-1.15zM386 285h1.15v1.15h-1.15zM388 285h1.15v1.15h-1.15zM415 285h1.15v1.15h-1.15zM416 285h1.15v1.15h-1.15zM418 285h1.15v1.15h-1.15zM421 285h1.15v1.15h-1.15zM427 285h1.15v1.15h-1.15zM380 286h1.15v1.15h-1.15zM381 286h1.15v1.15h-1.15zM387 286h1.15v1.15h-1.15zM416 286h1.15v1.15h-1.15zM418 286h1.15v1.15h-1.15zM419 286h1.15v1.15h-1.15zM420 286h1.15v1.15h-1.15zM388 287h1.15v1.15h-1.15zM380 288h1.15v1.15h-1.15zM417 288h1.15v1.15h-1.15zM419 288h1.15v1.15h-1.15zM366 289h1.15v1.15h-1.15zM377 289h1.15v1.15h-1.15zM379 289h1.15v1.15h-1.15zM412 289h1.15v1.15h-1.15zM415 289h1.15v1.15h-1.15zM416 289h1.15v1.15h-1.15zM381 290h1.15v1.15h-1.15zM384 290h1.15v1.15h-1.15zM385 290h1.15v1.15h-1.15zM386 290h1.15v1.15h-1.15zM415 290h1.15v1.15h-1.15zM416 290h1.15v1.15h-1.15zM427 290h1.15v1.15h-1.15zM367 291h1.15v1.15h-1.15zM369 291h1.15v1.15h-1.15zM383 291h1.15v1.15h-1.15zM413 291h1.15v1.15h-1.15zM419 291h1.15v1.15h-1.15zM384 292h1.15v1.15h-1.15zM357 293h1.15v1.15h-1.15zM375 293h1.15v1.15h-1.15zM378 293h1.15v1.15h-1.15zM403 293h1.15v1.15h-1.15zM405 293h1.15v1.15h-1.15zM411 293h1.15v1.15h-1.15zM412 293h1.15v1.15h-1.15zM413 293h1.15v1.15h-1.15zM414 293h1.15v1.15h-1.15zM369 294h1.15v1.15h-1.15zM382 294h1.15v1.15h-1.15zM384 294h1.15v1.15h-1.15zM385 294h1.15v1.15h-1.15zM410 294h1.15v1.15h-1.15zM412 294h1.15v1.15h-1.15zM415 294h1.15v1.15h-1.15zM416 294h1.15v1.15h-1.15zM419 294h1.15v1.15h-1.15zM354 295h1.15v1.15h-1.15zM355 295h1.15v1.15h-1.15zM373 295h1.15v1.15h-1.15zM382 295h1.15v1.15h-1.15zM386 295h1.15v1.15h-1.15zM408 295h1.15v1.15h-1.15zM411 295h1.15v1.15h-1.15zM413 295h1.15v1.15h-1.15zM415 295h1.15v1.15h-1.15zM419 295h1.15v1.15h-1.15zM379 296h1.15v1.15h-1.15zM384 296h1.15v1.15h-1.15zM392 296h1.15v1.15h-1.15zM406 296h1.15v1.15h-1.15zM408 296h1.15v1.15h-1.15zM412 296h1.15v1.15h-1.15zM376 297h1.15v1.15h-1.15zM381 297h1.15v1.15h-1.15zM385 297h1.15v1.15h-1.15zM388 297h1.15v1.15h-1.15zM400 297h1.15v1.15h-1.15zM408 297h1.15v1.15h-1.15zM411 297h1.15v1.15h-1.15zM415 297h1.15v1.15h-1.15zM417 297h1.15v1.15h-1.15zM353 298h1.15v1.15h-1.15zM384 298h1.15v1.15h-1.15zM386 298h1.15v1.15h-1.15zM388 298h1.15v1.15h-1.15zM393 298h1.15v1.15h-1.15zM396 298h1.15v1.15h-1.15zM403 298h1.15v1.15h-1.15zM404 298h1.15v1.15h-1.15zM407 298h1.15v1.15h-1.15zM409 298h1.15v1.15h-1.15zM414 298h1.15v1.15h-1.15zM378 299h1.15v1.15h-1.15zM386 299h1.15v1.15h-1.15zM389 299h1.15v1.15h-1.15zM392 299h1.15v1.15h-1.15zM400 299h1.15v1.15h-1.15zM401 299h1.15v1.15h-1.15zM414 299h1.15v1.15h-1.15zM384 300h1.15v1.15h-1.15zM385 300h1.15v1.15h-1.15zM387 300h1.15v1.15h-1.15zM391 300h1.15v1.15h-1.15zM392 300h1.15v1.15h-1.15zM398 300h1.15v1.15h-1.15zM402 300h1.15v1.15h-1.15zM403 300h1.15v1.15h-1.15zM404 300h1.15v1.15h-1.15zM405 300h1.15v1.15h-1.15zM410 300h1.15v1.15h-1.15zM411 300h1.15v1.15h-1.15zM418 300h1.15v1.15h-1.15zM377 301h1.15v1.15h-1.15zM386 301h1.15v1.15h-1.15zM387 301h1.15v1.15h-1.15zM390 301h1.15v1.15h-1.15zM393 301h1.15v1.15h-1.15zM394 301h1.15v1.15h-1.15zM396 301h1.15v1.15h-1.15zM403 301h1.15v1.15h-1.15zM407 301h1.15v1.15h-1.15zM409 301h1.15v1.15h-1.15zM415 301h1.15v1.15h-1.15zM393 302h1.15v1.15h-1.15zM398 302h1.15v1.15h-1.15zM403 302h1.15v1.15h-1.15zM379 303h1.15v1.15h-1.15zM381 303h1.15v1.15h-1.15zM385 303h1.15v1.15h-1.15zM386 303h1.15v1.15h-1.15zM387 303h1.15v1.15h-1.15zM388 303h1.15v1.15h-1.15zM389 303h1.15v1.15h-1.15zM395 303h1.15v1.15h-1.15zM396 303h1.15v1.15h-1.15zM399 303h1.15v1.15h-1.15zM401 303h1.15v1.15h-1.15zM403 303h1.15v1.15h-1.15zM406 303h1.15v1.15h-1.15zM407 303h1.15v1.15h-1.15zM382 304h1.15v1.15h-1.15zM386 304h1.15v1.15h-1.15zM389 304h1.15v1.15h-1.15zM393 304h1.15v1.15h-1.15zM394 304h1.15v1.15h-1.15zM396 304h1.15v1.15h-1.15zM404 304h1.15v1.15h-1.15zM405 304h1.15v1.15h-1.15zM410 304h1.15v1.15h-1.15zM380 305h1.15v1.15h-1.15zM385 305h1.15v1.15h-1.15zM392 305h1.15v1.15h-1.15zM397 305h1.15v1.15h-1.15zM399 305h1.15v1.15h-1.15zM401 305h1.15v1.15h-1.15zM381 306h1.15v1.15h-1.15zM394 306h1.15v1.15h-1.15zM397 306h1.15v1.15h-1.15zM402 306h1.15v1.15h-1.15zM403 306h1.15v1.15h-1.15zM372 307h1.15v1.15h-1.15zM393 307h1.15v1.15h-1.15zM394 307h1.15v1.15h-1.15zM396 307h1.15v1.15h-1.15zM399 307h1.15v1.15h-1.15zM411 307h1.15v1.15h-1.15zM370 308h1.15v1.15h-1.15zM388 308h1.15v1.15h-1.15zM400 308h1.15v1.15h-1.15zM403 308h1.15v1.15h-1.15zM407 308h1.15v1.15h-1.15zM384 309h1.15v1.15h-1.15zM387 309h1.15v1.15h-1.15zM407 309h1.15v1.15h-1.15zM389 310h1.15v1.15h-1.15zM403 310h1.15v1.15h-1.15zM392 311h1.15v1.15h-1.15zM396 311h1.15v1.15h-1.15zM400 311h1.15v1.15h-1.15zM401 311h1.15v1.15h-1.15zM402 312h1.15v1.15h-1.15zM402 313h1.15v1.15h-1.15zM401 314h1.15v1.15h-1.15z" fill="#0a0aff"/>
<path d="M396 237h1.15v1.15h-1.15zM397 237h1.15v1.15h-1.15zM399 237h1.15v1.15h-1.15zM391 238h1.15v1.15h-1.15zM392 238h1.15v1.15h-1.15zM393 238h1.15v1.15h-1.15zM395 238h1.15v1.15h-1.15zM397 238h1.15v1.15h-1.15zM398 238h1.15v1.15h-1.15zM399 238h1.15v1.15h-1.15zM400 238h1.15v1.15h-1.15zM384 239h1.15v1.15h-1.15zM385 239h1.15v1.15h-1.15zM390 239h1.15v1.15h-1.15zM393 239h1.15v1.15h-1.15zM394 239h1.15v1.15h-1.15zM395 239h1.15v1.15h-1.15zM401 239h1.15v1.15h-1.15zM402 239h1.15v1.15h-1.15zM406 239h1.15v1.15h-1.15zM385 240h1.15v1.15h-1.15zM387 240h1.15v1.15h-1.15zM395 240h1.15v1.15h-1.15zM402 240h1.15v1.15h-1.15zM403 240h1.15v1.15h-1.15zM405 240h1.15v1.15h-1.15zM383 241h1.15v1.15h-1.15zM384 241h1.15v1.15h-1.15zM392 241h1.15v1.15h-1.15zM395 241h1.15v1.15h-1.15zM396 241h1.15v1.15h-1.15zM407 241h1.15v1.15h-1.15zM383 242h1.15v1.15h-1.15zM384 242h1.15v1.15h-1.15zM391 242h1.15v1.15h-1.15zM392 242h1.15v1.15h-1.15zM394 242h1.15v1.15h-1.15zM403 242h1.15v1.15h-1.15zM407 242h1.15v1.15h-1.15zM384 243h1.15v1.15h-1.15zM392 243h1.15v1.15h-1.15zM404 243h1.15v1.15h-1.15zM405 243h1.15v1.15h-1.15zM407 243h1.15v1.15h-1.15zM409 243h1.15v1.15h-1.15zM381 244h1.15v1.15h-1.15zM383 244h1.15v1.15h-1.15zM385 244h1.15v1.15h-1.15zM406 244h1.15v1.15h-1.15zM379 245h1.15v1.15h-1.15zM381 245h1.15v1.15h-1.15zM383 245h1.15v1.15h-1.15zM385 245h1.15v1.15h-1.15zM394 245h1.15v1.15h-1.15zM407 245h1.15v1.15h-1.15zM382 246h1.15v1.15h-1.15zM387 246h1.15v1.15h-1.15zM405 246h1.15v1.15h-1.15zM400 247h1.15v1.15h-1.15zM405 247h1.15v1.15h-1.15zM404 248h1.15v1.15h-1.15zM405 248h1.15v1.15h-1.15zM409 248h1.15v1.15h-1.15zM402 249h1.15v1.15h-1.15zM405 249h1.15v1.15h-1.15zM409 249h1.15v1.15h-1.15zM385 250h1.15v1.15h-1.15zM402 250h1.15v1.15h-1.15zM383 251h1.15v1.15h-1.15zM401 251h1.15v1.15h-1.15zM402 251h1.15v1.15h-1.15zM400 252h1.15v1.15h-1.15zM382 253h1.15v1.15h-1.15zM401 253h1.15v1.15h-1.15zM402 254h1.15v1.15h-1.15zM400 255h1.15v1.15h-1.15zM379 256h1.15v1.15h-1.15zM380 256h1.15v1.15h-1.15zM375 257h1.15v1.15h-1.15zM377 257h1.15v1.15h-1.15zM379 257h1.15v1.15h-1.15zM381 257h1.15v1.15h-1.15zM385 257h1.15v1.15h-1.15zM375 258h1.15v1.15h-1.15zM376 258h1.15v1.15h-1.15zM379 258h1.15v1.15h-1.15zM380 258h1.15v1.15h-1.15zM401 258h1.15v1.15h-1.15zM375 259h1.15v1.15h-1.15zM376 259h1.15v1.15h-1.15zM380 259h1.15v1.15h-1.15zM382 259h1.15v1.15h-1.15zM397 259h1.15v1.15h-1.15zM372 260h1.15v1.15h-1.15zM373 260h1.15v1.15h-1.15zM379 260h1.15v1.15h-1.15zM383 260h1.15v1.15h-1.15zM385 260h1.15v1.15h-1.15zM399 260h1.15v1.15h-1.15zM400 260h1.15v1.15h-1.15zM401 260h1.15v1.15h-1.15zM408 260h1.15v1.15h-1.15zM409 260h1.15v1.15h-1.15zM373 261h1.15v1.15h-1.15zM375 261h1.15v1.15h-1.15zM387 261h1.15v1.15h-1.15zM391 261h1.15v1.15h-1.15zM399 261h1.15v1.15h-1.15zM405 261h1.15v1.15h-1.15zM413 261h1.15v1.15h-1.15zM372 262h1.15v1.15h-1.15zM374 262h1.15v1.15h-1.15zM375 262h1.15v1.15h-1.15zM385 262h1.15v1.15h-1.15zM386 262h1.15v1.15h-1.15zM389 262h1.15v1.15h-1.15zM398 262h1.15v1.15h-1.15zM404 262h1.15v1.15h-1.15zM406 262h1.15v1.15h-1.15zM410 262h1.15v1.15h-1.15zM411 262h1.15v1.15h-1.15zM414 262h1.15v1.15h-1.15zM372 263h1.15v1.15h-1.15zM384 263h1.15v1.15h-1.15zM385 263h1.15v1.15h-1.15zM386 263h1.15v1.15h-1.15zM396 263h1.15v1.15h-1.15zM400 263h1.15v1.15h-1.15zM386 264h1.15v1.15h-1.15zM387 264h1.15v1.15h-1.15zM393 264h1.15v1.15h-1.15zM395 264h1.15v1.15h-1.15zM415 264h1.15v1.15h-1.15zM416 264h1.15v1.15h-1.15zM415 265h1.15v1.15h-1.15zM392 267h1.15v1.15h-1.15zM391 268h1.15v1.15h-1.15zM393 268h1.15v1.15h-1.15zM417 268h1.15v1.15h-1.15zM418 268h1.15v1.15h-1.15zM417 269h1.15v1.15h-1.15zM417 270h1.15v1.15h-1.15zM419 271h1.15v1.15h-1.15zM420 271h1.15v1.15h-1.15zM392 273h1.15v1.15h-1.15zM388 275h1.15v1.15h-1.15zM389 275h1.15v1.15h-1.15zM419 275h1.15v1.15h-1.15zM418 276h1.15v1.15h-1.15zM390 277h1.15v1.15h-1.15zM417 278h1.15v1.15h-1.15zM388 279h1.15v1.15h-1.15zM414 279h1.15v1.15h-1.15zM418 279h1.15v1.15h-1.15zM387 280h1.15v1.15h-1.15zM418 280h1.15v1.15h-1.15zM388 281h1.15v1.15h-1.15zM418 281h1.15v1.15h-1.15zM417 282h1.15v1.15h-1.15zM389 283h1.15v1.15h-1.15zM390 283h1.15v1.15h-1.15zM414 283h1.15v1.15h-1.15zM420 283h1.15v1.15h-1.15zM389 284h1.15v1.15h-1.15zM412 285h1.15v1.15h-1.15zM414 285h1.15v1.15h-1.15zM391 286h1.15v1.15h-1.15zM414 286h1.15v1.15h-1.15zM410 287h1.15v1.15h-1.15zM412 287h1.15v1.15h-1.15zM387 288h1.15v1.15h-1.15zM389 289h1.15v1.15h-1.15zM391 290h1.15v1.15h-1.15zM403 290h1.15v1.15h-1.15zM408 290h1.15v1.15h-1.15zM409 290h1.15v1.15h-1.15zM400 291h1.15v1.15h-1.15zM407 291h1.15v1.15h-1.15zM411 291h1.15v1.15h-1.15zM386 292h1.15v1.15h-1.15zM387 292h1.15v1.15h-1.15zM389 292h1.15v1.15h-1.15zM396 292h1.15v1.15h-1.15zM404 292h1.15v1.15h-1.15zM406 292h1.15v1.15h-1.15zM407 292h1.15v1.15h-1.15zM408 292h1.15v1.15h-1.15zM409 292h1.15v1.15h-1.15zM410 292h1.15v1.15h-1.15zM411 292h1.15v1.15h-1.15zM388 293h1.15v1.15h-1.15zM391 293h1.15v1.15h-1.15zM406 293h1.15v1.15h-1.15zM407 293h1.15v1.15h-1.15zM386 294h1.15v1.15h-1.15zM387 294h1.15v1.15h-1.15zM388 294h1.15v1.15h-1.15zM391 294h1.15v1.15h-1.15zM393 294h1.15v1.15h-1.15zM396 294h1.15v1.15h-1.15zM402 294h1.15v1.15h-1.15zM403 294h1.15v1.15h-1.15zM406 294h1.15v1.15h-1.15zM387 295h1.15v1.15h-1.15zM388 295h1.15v1.15h-1.15zM389 295h1.15v1.15h-1.15zM390 295h1.15v1.15h-1.15zM393 295h1.15v1.15h-1.15zM394 295h1.15v1.15h-1.15zM395 295h1.15v1.15h-1.15zM396 295h1.15v1.15h-1.15zM403 295h1.15v1.15h-1.15zM405 295h1.15v1.15h-1.15zM406 295h1.15v1.15h-1.15zM389 296h1.15v1.15h-1.15zM390 296h1.15v1.15h-1.15zM393 296h1.15v1.15h-1.15zM394 296h1.15v1.15h-1.15zM398 296h1.15v1.15h-1.15zM400 296h1.15v1.15h-1.15zM402 296h1.15v1.15h-1.15zM407 296h1.15v1.15h-1.15zM392 297h1.15v1.15h-1.15zM394 297h1.15v1.15h-1.15zM396 297h1.15v1.15h-1.15zM398 297h1.15v1.15h-1.15zM399 297h1.15v1.15h-1.15zM401 297h1.15v1.15h-1.15zM403 297h1.15v1.15h-1.15zM405 297h1.15v1.15h-1.15zM407 297h1.15v1.15h-1.15zM395 298h1.15v1.15h-1.15zM399 298h1.15v1.15h-1.15zM393 299h1.15v1.15h-1.15zM396 299h1.15v1.15h-1.15zM398 299h1.15v1.15h-1.15zM399 299h1.15v1.15h-1.15zM395 300h1.15v1.15h-1.15zM395 301h1.15v1.15h-1.15zM387 302h1.15v1.15h-1.15z" fill="#0050ff"/>
<path d="M386 239h1.15v1.15h-1.15zM397 239h1.15v1.15h-1.15zM400 239h1.15v1.15h-1.15zM390 240h1.15v1.15h-1.15zM391 240h1.15v1.15h-1.15zM396 240h1.15v1.15h-1.15zM399 240h1.15v1.15h-1.15zM401 240h1.15v1.15h-1.15zM397 241h1.15v1.15h-1.15zM402 241h1.15v1.15h-1.15zM406 241h1.15v1.15h-1.15zM387 242h1.15v1.15h-1.15zM389 242h1.15v1.15h-1.15zM396 242h1.15v1.15h-1.15zM397 242h1.15v1.15h-1.15zM398 242h1.15v1.15h-1.15zM404 242h1.15v1.15h-1.15zM406 242h1.15v1.15h-1.15zM387 243h1.15v1.15h-1.15zM388 243h1.15v1.15h-1.15zM390 243h1.15v1.15h-1.15zM391 243h1.15v1.15h-1.15zM395 243h1.15v1.15h-1.15zM403 243h1.15v1.15h-1.15zM406 243h1.15v1.15h-1.15zM382 244h1.15v1.15h-1.15zM386 244h1.15v1.15h-1.15zM393 244h1.15v1.15h-1.15zM398 244h1.15v1.15h-1.15zM403 244h1.15v1.15h-1.15zM389 245h1.15v1.15h-1.15zM396 245h1.15v1.15h-1.15zM404 245h1.15v1.15h-1.15zM383 246h1.15v1.15h-1.15zM386 246h1.15v1.15h-1.15zM392 246h1.15v1.15h-1.15zM394 246h1.15v1.15h-1.15zM396 246h1.15v1.15h-1.15zM399 246h1.15v1.15h-1.15zM387 247h1.15v1.15h-1.15zM392 247h1.15v1.15h-1.15zM403 247h1.15v1.15h-1.15zM385 248h1.15v1.15h-1.15zM387 248h1.15v1.15h-1.15zM388 248h1.15v1.15h-1.15zM390 248h1.15v1.15h-1.15zM400 248h1.15v1.15h-1.15zM385 249h1.15v1.15h-1.15zM391 249h1.15v1.15h-1.15zM395 249h1.15v1.15h-1.15zM384 250h1.15v1.15h-1.15zM386 250h1.15v1.15h-1.15zM387 250h1.15v1.15h-1.15zM390 250h1.15v1.15h-1.15zM399 250h1.15v1.15h-1.15zM400 250h1.15v1.15h-1.15zM403 250h1.15v1.15h-1.15zM385 251h1.15v1.15h-1.15zM396 251h1.15v1.15h-1.15zM397 251h1.15v1.15h-1.15zM399 251h1.15v1.15h-1.15zM385 252h1.15v1.15h-1.15zM384 253h1.15v1.15h-1.15zM385 253h1.15v1.15h-1.15zM400 253h1.15v1.15h-1.15zM381 254h1.15v1.15h-1.15zM383 254h1.15v1.15h-1.15zM387 254h1.15v1.15h-1.15zM398 254h1.15v1.15h-1.15zM398 255h1.15v1.15h-1.15zM382 256h1.15v1.15h-1.15zM399 256h1.15v1.15h-1.15zM400 256h1.15v1.15h-1.15zM383 257h1.15v1.15h-1.15zM399 257h1.15v1.15h-1.15zM377 258h1.15v1.15h-1.15zM381 258h1.15v1.15h-1.15zM384 258h1.15v1.15h-1.15zM398 258h1.15v1.15h-1.15zM378 259h1.15v1.15h-1.15zM379 259h1.15v1.15h-1.15zM384 259h1.15v1.15h-1.15zM377 260h1.15v1.15h-1.15zM378 260h1.15v1.15h-1.15zM386 260h1.15v1.15h-1.15zM387 260h1.15v1.15h-1.15zM389 260h1.15v1.15h-1.15zM394 260h1.15v1.15h-1.15zM395 260h1.15v1.15h-1.15zM397 260h1.15v1.15h-1.15zM398 260h1.15v1.15h-1.15zM392 261h1.15v1.15h-1.15zM404 261h1.15v1.15h-1.15zM406 261h1.15v1.15h-1.15zM409 261h1.15v1.15h-1.15zM392 262h1.15v1.15h-1.15zM393 262h1.15v1.15h-1.15zM394 262h1.15v1.15h-1.15zM396 262h1.15v1.15h-1.15zM399 262h1.15v1.15h-1.15zM401 262h1.15v1.15h-1.15zM412 262h1.15v1.15h-1.15zM413 262h1.15v1.15h-1.15zM387 263h1.15v1.15h-1.15zM392 263h1.15v1.15h-1.15zM394 263h1.15v1.15h-1.15zM398 263h1.15v1.15h-1.15zM403 263h1.15v1.15h-1.15zM411 263h1.15v1.15h-1.15zM412 263h1.15v1.15h-1.15zM414 263h1.15v1.15h-1.15zM394 264h1.15v1.15h-1.15zM396 264h1.15v1.15h-1.15zM402 264h1.15v1.15h-1.15zM413 264h1.15v1.15h-1.15zM398 265h1.15v1.15h-1.15zM399 265h1.15v1.15h-1.15zM400 265h1.15v1.15h-1.15zM416 265h1.15v1.15h-1.15zM399 266h1.15v1.15h-1.15zM416 266h1.15v1.15h-1.15zM391 271h1.15v1.15h-1.15zM392 271h1.15v1.15h-1.15zM417 271h1.15v1.15h-1.15zM418 271h1.15v1.15h-1.15zM390 272h1.15v1.15h-1.15zM418 272h1.15v1.15h-1.15zM390 273h1.15v1.15h-1.15zM416 273h1.15v1.15h-1.15zM418 273h1.15v1.15h-1.15zM418 274h1.15v1.15h-1.15zM390 276h1.15v1.15h-1.15zM416 276h1.15v1.15h-1.15zM389 277h1.15v1.15h-1.15zM418 277h1.15v1.15h-1.15zM389 278h1.15v1.15h-1.15zM391 278h1.15v1.15h-1.15zM414 278h1.15v1.15h-1.15zM389 279h1.15v1.15h-1.15zM390 279h1.15v1.15h-1.15zM415 279h1.15v1.15h-1.15zM417 279h1.15v1.15h-1.15zM390 280h1.15v1.15h-1.15zM414 280h1.15v1.15h-1.15zM416 280h1.15v1.15h-1.15zM390 281h1.15v1.15h-1.15zM416 281h1.15v1.15h-1.15zM413 282h1.15v1.15h-1.15zM416 282h1.15v1.15h-1.15zM391 284h1.15v1.15h-1.15zM412 284h1.15v1.15h-1.15zM414 284h1.15v1.15h-1.15zM390 285h1.15v1.15h-1.15zM391 285h1.15v1.15h-1.15zM390 286h1.15v1.15h-1.15zM392 286h1.15v1.15h-1.15zM410 286h1.15v1.15h-1.15zM412 286h1.15v1.15h-1.15zM413 286h1.15v1.15h-1.15zM411 287h1.15v1.15h-1.15zM388 288h1.15v1.15h-1.15zM398 289h1.15v1.15h-1.15zM406 289h1.15v1.15h-1.15zM408 289h1.15v1.15h-1.15zM409 289h1.15v1.15h-1.15zM392 290h1.15v1.15h-1.15zM401 290h1.15v1.15h-1.15zM410 290h1.15v1.15h-1.15zM390 291h1.15v1.15h-1.15zM395 291h1.15v1.15h-1.15zM403 291h1.15v1.15h-1.15zM410 291h1.15v1.15h-1.15zM388 292h1.15v1.15h-1.15zM391 292h1.15v1.15h-1.15zM393 292h1.15v1.15h-1.15zM399 292h1.15v1.15h-1.15zM405 292h1.15v1.15h-1.15zM397 293h1.15v1.15h-1.15zM399 293h1.15v1.15h-1.15zM397 294h1.15v1.15h-1.15zM400 294h1.15v1.15h-1.15zM401 294h1.15v1.15h-1.15zM404 294h1.15v1.15h-1.15zM397 295h1.15v1.15h-1.15zM402 295h1.15v1.15h-1.15zM388 296h1.15v1.15h-1.15zM397 296h1.15v1.15h-1.15zM397 297h1.15v1.15h-1.15z" fill="#0098ff"/>
<path d="M392 239h1.15v1.15h-1.15zM398 239h1.15v1.15h-1.15zM399 239h1.15v1.15h-1.15zM397 240h1.15v1.15h-1.15zM400 240h1.15v1.15h-1.15zM389 241h1.15v1.15h-1.15zM398 241h1.15v1.15h-1.15zM400 241h1.15v1.15h-1.15zM403 241h1.15v1.15h-1.15zM405 241h1.15v1.15h-1.15zM388 242h1.15v1.15h-1.15zM395 242h1.15v1.15h-1.15zM401 242h1.15v1.15h-1.15zM405 242h1.15v1.15h-1.15zM386 243h1.15v1.15h-1.15zM400 243h1.15v1.15h-1.15zM387 244h1.15v1.15h-1.15zM395 244h1.15v1.15h-1.15zM396 244h1.15v1.15h-1.15zM407 244h1.15v1.15h-1.15zM386 245h1.15v1.15h-1.15zM400 245h1.15v1.15h-1.15zM402 245h1.15v1.15h-1.15zM388 246h1.15v1.15h-1.15zM390 246h1.15v1.15h-1.15zM391 246h1.15v1.15h-1.15zM402 246h1.15v1.15h-1.15zM403 246h1.15v1.15h-1.15zM404 246h1.15v1.15h-1.15zM391 247h1.15v1.15h-1.15zM401 247h1.15v1.15h-1.15zM392 248h1.15v1.15h-1.15zM386 249h1.15v1.15h-1.15zM390 249h1.15v1.15h-1.15zM399 249h1.15v1.15h-1.15zM400 249h1.15v1.15h-1.15zM388 250h1.15v1.15h-1.15zM391 250h1.15v1.15h-1.15zM396 250h1.15v1.15h-1.15zM386 251h1.15v1.15h-1.15zM391 251h1.15v1.15h-1.15zM393 251h1.15v1.15h-1.15zM400 251h1.15v1.15h-1.15zM386 252h1.15v1.15h-1.15zM389 252h1.15v1.15h-1.15zM398 252h1.15v1.15h-1.15zM401 252h1.15v1.15h-1.15zM390 253h1.15v1.15h-1.15zM398 253h1.15v1.15h-1.15zM384 254h1.15v1.15h-1.15zM391 254h1.15v1.15h-1.15zM399 254h1.15v1.15h-1.15zM400 254h1.15v1.15h-1.15zM383 255h1.15v1.15h-1.15zM399 255h1.15v1.15h-1.15zM383 256h1.15v1.15h-1.15zM397 256h1.15v1.15h-1.15zM398 256h1.15v1.15h-1.15zM394 258h1.15v1.15h-1.15zM396 258h1.15v1.15h-1.15zM399 258h1.15v1.15h-1.15zM387 259h1.15v1.15h-1.15zM390 259h1.15v1.15h-1.15zM392 260h1.15v1.15h-1.15zM393 260h1.15v1.15h-1.15zM396 260h1.15v1.15h-1.15zM389 261h1.15v1.15h-1.15zM393 261h1.15v1.15h-1.15zM395 261h1.15v1.15h-1.15zM408 261h1.15v1.15h-1.15zM397 262h1.15v1.15h-1.15zM402 262h1.15v1.15h-1.15zM403 262h1.15v1.15h-1.15zM405 262h1.15v1.15h-1.15zM409 262h1.15v1.15h-1.15zM401 263h1.15v1.15h-1.15zM404 263h1.15v1.15h-1.15zM401 264h1.15v1.15h-1.15zM405 264h1.15v1.15h-1.15zM410 264h1.15v1.15h-1.15zM412 264h1.15v1.15h-1.15zM414 264h1.15v1.15h-1.15zM395 265h1.15v1.15h-1.15zM396 265h1.15v1.15h-1.15zM402 265h1.15v1.15h-1.15zM407 265h1.15v1.15h-1.15zM413 265h1.15v1.15h-1.15zM414 265h1.15v1.15h-1.15zM400 266h1.15v1.15h-1.15zM401 266h1.15v1.15h-1.15zM402 266h1.15v1.15h-1.15zM411 266h1.15v1.15h-1.15zM412 266h1.15v1.15h-1.15zM415 266h1.15v1.15h-1.15zM415 267h1.15v1.15h-1.15zM401 268h1.15v1.15h-1.15zM415 268h1.15v1.15h-1.15zM392 269h1.15v1.15h-1.15zM393 269h1.15v1.15h-1.15zM391 270h1.15v1.15h-1.15zM393 270h1.15v1.15h-1.15zM415 270h1.15v1.15h-1.15zM393 271h1.15v1.15h-1.15zM395 271h1.15v1.15h-1.15zM415 274h1.15v1.15h-1.15zM416 274h1.15v1.15h-1.15zM391 275h1.15v1.15h-1.15zM392 276h1.15v1.15h-1.15zM415 276h1.15v1.15h-1.15zM412 277h1.15v1.15h-1.15zM416 277h1.15v1.15h-1.15zM417 277h1.15v1.15h-1.15zM415 278h1.15v1.15h-1.15zM392 279h1.15v1.15h-1.15zM391 280h1.15v1.15h-1.15zM411 280h1.15v1.15h-1.15zM391 281h1.15v1.15h-1.15zM413 281h1.15v1.15h-1.15zM415 281h1.15v1.15h-1.15zM391 282h1.15v1.15h-1.15zM412 282h1.15v1.15h-1.15zM409 284h1.15v1.15h-1.15zM413 284h1.15v1.15h-1.15zM393 285h1.15v1.15h-1.15zM408 285h1.15v1.15h-1.15zM411 285h1.15v1.15h-1.15zM413 285h1.15v1.15h-1.15zM393 286h1.15v1.15h-1.15zM396 286h1.15v1.15h-1.15zM403 286h1.15v1.15h-1.15zM409 286h1.15v1.15h-1.15zM392 287h1.15v1.15h-1.15zM393 287h1.15v1.15h-1.15zM404 287h1.15v1.15h-1.15zM413 287h1.15v1.15h-1.15zM390 288h1.15v1.15h-1.15zM392 288h1.15v1.15h-1.15zM395 288h1.15v1.15h-1.15zM405 288h1.15v1.15h-1.15zM406 288h1.15v1.15h-1.15zM409 288h1.15v1.15h-1.15zM393 289h1.15v1.15h-1.15zM400 289h1.15v1.15h-1.15zM401 289h1.15v1.15h-1.15zM402 289h1.15v1.15h-1.15zM407 289h1.15v1.15h-1.15zM410 289h1.15v1.15h-1.15zM387 290h1.15v1.15h-1.15zM389 290h1.15v1.15h-1.15zM394 290h1.15v1.15h-1.15zM402 290h1.15v1.15h-1.15zM404 290h1.15v1.15h-1.15zM405 290h1.15v1.15h-1.15zM391 291h1.15v1.15h-1.15zM397 291h1.15v1.15h-1.15zM408 291h1.15v1.15h-1.15zM409 291h1.15v1.15h-1.15zM390 292h1.15v1.15h-1.15zM392 292h1.15v1.15h-1.15zM394 292h1.15v1.15h-1.15zM397 292h1.15v1.15h-1.15zM400 292h1.15v1.15h-1.15zM401 292h1.15v1.15h-1.15zM398 293h1.15v1.15h-1.15zM400 293h1.15v1.15h-1.15zM402 293h1.15v1.15h-1.15zM389 294h1.15v1.15h-1.15zM399 294h1.15v1.15h-1.15zM396 296h1.15v1.15h-1.15zM395 297h1.15v1.15h-1.15zM397 298h1.15v1.15h-1.15z" fill="#00e0f0"/>
<path d="M399 241h1.15v1.15h-1.15zM389 243h1.15v1.15h-1.15zM399 243h1.15v1.15h-1.15zM401 243h1.15v1.15h-1.15zM402 243h1.15v1.15h-1.15zM388 244h1.15v1.15h-1.15zM389 244h1.15v1.15h-1.15zM390 244h1.15v1.15h-1.15zM399 244h1.15v1.15h-1.15zM388 245h1.15v1.15h-1.15zM390 245h1.15v1.15h-1.15zM397 245h1.15v1.15h-1.15zM399 245h1.15v1.15h-1.15zM401 245h1.15v1.15h-1.15zM389 246h1.15v1.15h-1.15zM401 246h1.15v1.15h-1.15zM388 247h1.15v1.15h-1.15zM393 247h1.15v1.15h-1.15zM394 247h1.15v1.15h-1.15zM397 247h1.15v1.15h-1.15zM399 247h1.15v1.15h-1.15zM391 248h1.15v1.15h-1.15zM394 248h1.15v1.15h-1.15zM395 248h1.15v1.15h-1.15zM397 248h1.15v1.15h-1.15zM402 248h1.15v1.15h-1.15zM388 249h1.15v1.15h-1.15zM392 249h1.15v1.15h-1.15zM396 249h1.15v1.15h-1.15zM393 250h1.15v1.15h-1.15zM398 250h1.15v1.15h-1.15zM388 251h1.15v1.15h-1.15zM390 251h1.15v1.15h-1.15zM394 251h1.15v1.15h-1.15zM395 251h1.15v1.15h-1.15zM390 252h1.15v1.15h-1.15zM394 252h1.15v1.15h-1.15zM396 252h1.15v1.15h-1.15zM386 253h1.15v1.15h-1.15zM395 253h1.15v1.15h-1.15zM386 254h1.15v1.15h-1.15zM396 254h1.15v1.15h-1.15zM385 255h1.15v1.15h-1.15zM386 255h1.15v1.15h-1.15zM395 255h1.15v1.15h-1.15zM396 255h1.15v1.15h-1.15zM397 255h1.15v1.15h-1.15zM384 256h1.15v1.15h-1.15zM385 256h1.15v1.15h-1.15zM386 256h1.15v1.15h-1.15zM394 256h1.15v1.15h-1.15zM393 257h1.15v1.15h-1.15zM395 258h1.15v1.15h-1.15zM397 258h1.15v1.15h-1.15zM393 259h1.15v1.15h-1.15zM388 260h1.15v1.15h-1.15zM391 260h1.15v1.15h-1.15zM406 264h1.15v1.15h-1.15zM408 264h1.15v1.15h-1.15zM409 264h1.15v1.15h-1.15zM411 264h1.15v1.15h-1.15zM401 265h1.15v1.15h-1.15zM403 265h1.15v1.15h-1.15zM404 265h1.15v1.15h-1.15zM406 265h1.15v1.15h-1.15zM409 265h1.15v1.15h-1.15zM411 265h1.15v1.15h-1.15zM412 265h1.15v1.15h-1.15zM397 266h1.15v1.15h-1.15zM403 266h1.15v1.15h-1.15zM404 266h1.15v1.15h-1.15zM395 267h1.15v1.15h-1.15zM396 267h1.15v1.15h-1.15zM399 267h1.15v1.15h-1.15zM405 267h1.15v1.15h-1.15zM406 267h1.15v1.15h-1.15zM414 267h1.15v1.15h-1.15zM416 267h1.15v1.15h-1.15zM396 268h1.15v1.15h-1.15zM413 268h1.15v1.15h-1.15zM396 269h1.15v1.15h-1.15zM414 269h1.15v1.15h-1.15zM392 270h1.15v1.15h-1.15zM394 270h1.15v1.15h-1.15zM390 271h1.15v1.15h-1.15zM415 271h1.15v1.15h-1.15zM416 271h1.15v1.15h-1.15zM391 272h1.15v1.15h-1.15zM393 272h1.15v1.15h-1.15zM394 272h1.15v1.15h-1.15zM416 272h1.15v1.15h-1.15zM415 273h1.15v1.15h-1.15zM417 273h1.15v1.15h-1.15zM392 274h1.15v1.15h-1.15zM393 274h1.15v1.15h-1.15zM392 275h1.15v1.15h-1.15zM394 275h1.15v1.15h-1.15zM413 275h1.15v1.15h-1.15zM394 276h1.15v1.15h-1.15zM413 276h1.15v1.15h-1.15zM391 277h1.15v1.15h-1.15zM392 277h1.15v1.15h-1.15zM414 277h1.15v1.15h-1.15zM393 279h1.15v1.15h-1.15zM413 279h1.15v1.15h-1.15zM416 279h1.15v1.15h-1.15zM392 280h1.15v1.15h-1.15zM395 280h1.15v1.15h-1.15zM396 280h1.15v1.15h-1.15zM392 281h1.15v1.15h-1.15zM395 281h1.15v1.15h-1.15zM397 281h1.15v1.15h-1.15zM412 281h1.15v1.15h-1.15zM394 282h1.15v1.15h-1.15zM392 283h1.15v1.15h-1.15zM394 283h1.15v1.15h-1.15zM396 283h1.15v1.15h-1.15zM411 283h1.15v1.15h-1.15zM394 284h1.15v1.15h-1.15zM397 284h1.15v1.15h-1.15zM398 284h1.15v1.15h-1.15zM410 284h1.15v1.15h-1.15zM394 285h1.15v1.15h-1.15zM396 285h1.15v1.15h-1.15zM402 285h1.15v1.15h-1.15zM398 286h1.15v1.15h-1.15zM406 286h1.15v1.15h-1.15zM408 286h1.15v1.15h-1.15zM411 286h1.15v1.15h-1.15zM396 287h1.15v1.15h-1.15zM398 287h1.15v1.15h-1.15zM405 287h1.15v1.15h-1.15zM407 287h1.15v1.15h-1.15zM408 287h1.15v1.15h-1.15zM409 287h1.15v1.15h-1.15zM389 288h1.15v1.15h-1.15zM393 288h1.15v1.15h-1.15zM394 288h1.15v1.15h-1.15zM398 288h1.15v1.15h-1.15zM402 288h1.15v1.15h-1.15zM404 288h1.15v1.15h-1.15zM391 289h1.15v1.15h-1.15zM392 289h1.15v1.15h-1.15zM395 289h1.15v1.15h-1.15zM396 289h1.15v1.15h-1.15zM397 289h1.15v1.15h-1.15zM403 289h1.15v1.15h-1.15zM393 290h1.15v1.15h-1.15zM398 290h1.15v1.15h-1.15zM394 291h1.15v1.15h-1.15zM398 292h1.15v1.15h-1.15zM394 293h1.15v1.15h-1.15zM390 294h1.15v1.15h-1.15z" fill="#20f090"/>
<path d="M401 241h1.15v1.15h-1.15zM399 242h1.15v1.15h-1.15zM397 243h1.15v1.15h-1.15zM398 243h1.15v1.15h-1.15zM400 244h1.15v1.15h-1.15zM390 247h1.15v1.15h-1.15zM396 247h1.15v1.15h-1.15zM398 247h1.15v1.15h-1.15zM389 248h1.15v1.15h-1.15zM399 248h1.15v1.15h-1.15zM393 249h1.15v1.15h-1.15zM397 249h1.15v1.15h-1.15zM398 249h1.15v1.15h-1.15zM394 250h1.15v1.15h-1.15zM393 252h1.15v1.15h-1.15zM395 252h1.15v1.15h-1.15zM387 253h1.15v1.15h-1.15zM388 253h1.15v1.15h-1.15zM389 253h1.15v1.15h-1.15zM391 253h1.15v1.15h-1.15zM394 253h1.15v1.15h-1.15zM397 253h1.15v1.15h-1.15zM389 254h1.15v1.15h-1.15zM390 254h1.15v1.15h-1.15zM392 254h1.15v1.15h-1.15zM395 254h1.15v1.15h-1.15zM397 254h1.15v1.15h-1.15zM387 255h1.15v1.15h-1.15zM388 255h1.15v1.15h-1.15zM389 255h1.15v1.15h-1.15zM391 255h1.15v1.15h-1.15zM392 255h1.15v1.15h-1.15zM393 255h1.15v1.15h-1.15zM387 256h1.15v1.15h-1.15zM389 256h1.15v1.15h-1.15zM391 256h1.15v1.15h-1.15zM392 256h1.15v1.15h-1.15zM395 256h1.15v1.15h-1.15zM396 256h1.15v1.15h-1.15zM384 257h1.15v1.15h-1.15zM386 257h1.15v1.15h-1.15zM388 257h1.15v1.15h-1.15zM390 257h1.15v1.15h-1.15zM391 257h1.15v1.15h-1.15zM394 257h1.15v1.15h-1.15zM386 258h1.15v1.15h-1.15zM387 258h1.15v1.15h-1.15zM388 258h1.15v1.15h-1.15zM390 258h1.15v1.15h-1.15zM386 259h1.15v1.15h-1.15zM388 259h1.15v1.15h-1.15zM389 259h1.15v1.15h-1.15zM391 259h1.15v1.15h-1.15zM392 259h1.15v1.15h-1.15zM406 263h1.15v1.15h-1.15zM409 263h1.15v1.15h-1.15zM407 264h1.15v1.15h-1.15zM408 265h1.15v1.15h-1.15zM405 266h1.15v1.15h-1.15zM407 266h1.15v1.15h-1.15zM409 266h1.15v1.15h-1.15zM410 266h1.15v1.15h-1.15zM397 267h1.15v1.15h-1.15zM400 267h1.15v1.15h-1.15zM402 267h1.15v1.15h-1.15zM403 267h1.15v1.15h-1.15zM404 267h1.15v1.15h-1.15zM407 267h1.15v1.15h-1.15zM409 267h1.15v1.15h-1.15zM411 267h1.15v1.15h-1.15zM395 268h1.15v1.15h-1.15zM397 268h1.15v1.15h-1.15zM402 268h1.15v1.15h-1.15zM405 268h1.15v1.15h-1.15zM406 268h1.15v1.15h-1.15zM407 268h1.15v1.15h-1.15zM412 268h1.15v1.15h-1.15zM414 268h1.15v1.15h-1.15zM408 269h1.15v1.15h-1.15zM412 269h1.15v1.15h-1.15zM413 269h1.15v1.15h-1.15zM395 270h1.15v1.15h-1.15zM396 270h1.15v1.15h-1.15zM397 270h1.15v1.15h-1.15zM411 270h1.15v1.15h-1.15zM413 270h1.15v1.15h-1.15zM396 271h1.15v1.15h-1.15zM398 271h1.15v1.15h-1.15zM413 271h1.15v1.15h-1.15zM414 271h1.15v1.15h-1.15zM392 272h1.15v1.15h-1.15zM395 272h1.15v1.15h-1.15zM397 272h1.15v1.15h-1.15zM410 272h1.15v1.15h-1.15zM415 272h1.15v1.15h-1.15zM394 273h1.15v1.15h-1.15zM395 273h1.15v1.15h-1.15zM412 273h1.15v1.15h-1.15zM413 274h1.15v1.15h-1.15zM414 274h1.15v1.15h-1.15zM393 275h1.15v1.15h-1.15zM412 275h1.15v1.15h-1.15zM414 275h1.15v1.15h-1.15zM415 275h1.15v1.15h-1.15zM416 275h1.15v1.15h-1.15zM393 276h1.15v1.15h-1.15zM397 276h1.15v1.15h-1.15zM412 276h1.15v1.15h-1.15zM414 276h1.15v1.15h-1.15zM394 278h1.15v1.15h-1.15zM396 278h1.15v1.15h-1.15zM409 278h1.15v1.15h-1.15zM411 278h1.15v1.15h-1.15zM394 279h1.15v1.15h-1.15zM396 279h1.15v1.15h-1.15zM399 279h1.15v1.15h-1.15zM393 280h1.15v1.15h-1.15zM394 280h1.15v1.15h-1.15zM399 280h1.15v1.15h-1.15zM410 280h1.15v1.15h-1.15zM412 280h1.15v1.15h-1.15zM413 280h1.15v1.15h-1.15zM393 281h1.15v1.15h-1.15zM394 281h1.15v1.15h-1.15zM398 281h1.15v1.15h-1.15zM399 281h1.15v1.15h-1.15zM400 281h1.15v1.15h-1.15zM401 281h1.15v1.15h-1.15zM402 281h1.15v1.15h-1.15zM392 282h1.15v1.15h-1.15zM393 282h1.15v1.15h-1.15zM396 282h1.15v1.15h-1.15zM397 282h1.15v1.15h-1.15zM400 282h1.15v1.15h-1.15zM404 282h1.15v1.15h-1.15zM410 282h1.15v1.15h-1.15zM393 283h1.15v1.15h-1.15zM395 283h1.15v1.15h-1.15zM398 283h1.15v1.15h-1.15zM399 283h1.15v1.15h-1.15zM401 283h1.15v1.15h-1.15zM402 283h1.15v1.15h-1.15zM406 283h1.15v1.15h-1.15zM392 284h1.15v1.15h-1.15zM393 284h1.15v1.15h-1.15zM395 284h1.15v1.15h-1.15zM396 284h1.15v1.15h-1.15zM399 284h1.15v1.15h-1.15zM404 284h1.15v1.15h-1.15zM405 284h1.15v1.15h-1.15zM406 284h1.15v1.15h-1.15zM397 285h1.15v1.15h-1.15zM406 285h1.15v1.15h-1.15zM409 285h1.15v1.15h-1.15zM395 286h1.15v1.15h-1.15zM397 286h1.15v1.15h-1.15zM399 286h1.15v1.15h-1.15zM401 286h1.15v1.15h-1.15zM404 286h1.15v1.15h-1.15zM407 286h1.15v1.15h-1.15zM400 287h1.15v1.15h-1.15zM401 287h1.15v1.15h-1.15zM402 287h1.15v1.15h-1.15zM406 287h1.15v1.15h-1.15zM391 288h1.15v1.15h-1.15zM397 288h1.15v1.15h-1.15zM399 288h1.15v1.15h-1.15zM401 288h1.15v1.15h-1.15zM399 289h1.15v1.15h-1.15zM396 290h1.15v1.15h-1.15zM401 291h1.15v1.15h-1.15z" fill="#40f040"/>
<path d="M398 245h1.15v1.15h-1.15zM400 246h1.15v1.15h-1.15zM392 253h1.15v1.15h-1.15zM393 253h1.15v1.15h-1.15zM393 254h1.15v1.15h-1.15zM390 255h1.15v1.15h-1.15zM394 255h1.15v1.15h-1.15zM390 256h1.15v1.15h-1.15zM387 257h1.15v1.15h-1.15zM389 257h1.15v1.15h-1.15zM392 257h1.15v1.15h-1.15zM395 257h1.15v1.15h-1.15zM396 257h1.15v1.15h-1.15zM389 258h1.15v1.15h-1.15zM391 258h1.15v1.15h-1.15zM408 267h1.15v1.15h-1.15zM410 267h1.15v1.15h-1.15zM399 268h1.15v1.15h-1.15zM403 268h1.15v1.15h-1.15zM404 268h1.15v1.15h-1.15zM408 268h1.15v1.15h-1.15zM409 268h1.15v1.15h-1.15zM410 268h1.15v1.15h-1.15zM411 268h1.15v1.15h-1.15zM395 269h1.15v1.15h-1.15zM397 269h1.15v1.15h-1.15zM398 269h1.15v1.15h-1.15zM399 269h1.15v1.15h-1.15zM400 269h1.15v1.15h-1.15zM401 269h1.15v1.15h-1.15zM402 269h1.15v1.15h-1.15zM403 269h1.15v1.15h-1.15zM404 269h1.15v1.15h-1.15zM406 269h1.15v1.15h-1.15zM409 269h1.15v1.15h-1.15zM410 269h1.15v1.15h-1.15zM411 269h1.15v1.15h-1.15zM399 270h1.15v1.15h-1.15zM401 270h1.15v1.15h-1.15zM402 270h1.15v1.15h-1.15zM407 270h1.15v1.15h-1.15zM409 270h1.15v1.15h-1.15zM412 270h1.15v1.15h-1.15zM414 270h1.15v1.15h-1.15zM397 271h1.15v1.15h-1.15zM399 271h1.15v1.15h-1.15zM400 271h1.15v1.15h-1.15zM408 271h1.15v1.15h-1.15zM410 271h1.15v1.15h-1.15zM411 271h1.15v1.15h-1.15zM412 271h1.15v1.15h-1.15zM398 272h1.15v1.15h-1.15zM399 272h1.15v1.15h-1.15zM400 272h1.15v1.15h-1.15zM401 272h1.15v1.15h-1.15zM403 272h1.15v1.15h-1.15zM405 272h1.15v1.15h-1.15zM409 272h1.15v1.15h-1.15zM411 272h1.15v1.15h-1.15zM412 272h1.15v1.15h-1.15zM413 272h1.15v1.15h-1.15zM414 272h1.15v1.15h-1.15zM396 273h1.15v1.15h-1.15zM397 273h1.15v1.15h-1.15zM398 273h1.15v1.15h-1.15zM399 273h1.15v1.15h-1.15zM410 273h1.15v1.15h-1.15zM411 273h1.15v1.15h-1.15zM414 273h1.15v1.15h-1.15zM395 274h1.15v1.15h-1.15zM397 274h1.15v1.15h-1.15zM399 274h1.15v1.15h-1.15zM409 274h1.15v1.15h-1.15zM396 275h1.15v1.15h-1.15zM397 275h1.15v1.15h-1.15zM398 275h1.15v1.15h-1.15zM409 275h1.15v1.15h-1.15zM411 275h1.15v1.15h-1.15zM395 276h1.15v1.15h-1.15zM396 276h1.15v1.15h-1.15zM406 276h1.15v1.15h-1.15zM409 276h1.15v1.15h-1.15zM410 276h1.15v1.15h-1.15zM411 276h1.15v1.15h-1.15zM393 277h1.15v1.15h-1.15zM394 277h1.15v1.15h-1.15zM395 277h1.15v1.15h-1.15zM396 277h1.15v1.15h-1.15zM398 277h1.15v1.15h-1.15zM409 277h1.15v1.15h-1.15zM410 277h1.15v1.15h-1.15zM393 278h1.15v1.15h-1.15zM400 278h1.15v1.15h-1.15zM407 278h1.15v1.15h-1.15zM410 278h1.15v1.15h-1.15zM397 279h1.15v1.15h-1.15zM398 279h1.15v1.15h-1.15zM400 279h1.15v1.15h-1.15zM406 279h1.15v1.15h-1.15zM408 279h1.15v1.15h-1.15zM409 279h1.15v1.15h-1.15zM410 279h1.15v1.15h-1.15zM411 279h1.15v1.15h-1.15zM397 280h1.15v1.15h-1.15zM400 280h1.15v1.15h-1.15zM406 280h1.15v1.15h-1.15zM409 280h1.15v1.15h-1.15zM396 281h1.15v1.15h-1.15zM403 281h1.15v1.15h-1.15zM404 281h1.15v1.15h-1.15zM407 281h1.15v1.15h-1.15zM408 281h1.15v1.15h-1.15zM410 281h1.15v1.15h-1.15zM411 281h1.15v1.15h-1.15zM395 282h1.15v1.15h-1.15zM401 282h1.15v1.15h-1.15zM402 282h1.15v1.15h-1.15zM406 282h1.15v1.15h-1.15zM407 282h1.15v1.15h-1.15zM409 282h1.15v1.15h-1.15zM400 283h1.15v1.15h-1.15zM403 283h1.15v1.15h-1.15zM404 283h1.15v1.15h-1.15zM407 283h1.15v1.15h-1.15zM408 283h1.15v1.15h-1.15zM409 283h1.15v1.15h-1.15zM400 284h1.15v1.15h-1.15zM401 284h1.15v1.15h-1.15zM402 284h1.15v1.15h-1.15zM403 284h1.15v1.15h-1.15zM407 284h1.15v1.15h-1.15zM399 285h1.15v1.15h-1.15zM400 285h1.15v1.15h-1.15zM401 285h1.15v1.15h-1.15zM397 287h1.15v1.15h-1.15zM399 287h1.15v1.15h-1.15zM400 288h1.15v1.15h-1.15z" fill="#a0f020"/>
<path d="M405 269h1.15v1.15h-1.15zM407 269h1.15v1.15h-1.15zM403 270h1.15v1.15h-1.15zM404 270h1.15v1.15h-1.15zM405 270h1.15v1.15h-1.15zM406 270h1.15v1.15h-1.15zM408 270h1.15v1.15h-1.15zM401 271h1.15v1.15h-1.15zM402 271h1.15v1.15h-1.15zM403 271h1.15v1.15h-1.15zM405 271h1.15v1.15h-1.15zM406 271h1.15v1.15h-1.15zM407 271h1.15v1.15h-1.15zM409 271h1.15v1.15h-1.15zM402 272h1.15v1.15h-1.15zM404 272h1.15v1.15h-1.15zM406 272h1.15v1.15h-1.15zM407 272h1.15v1.15h-1.15zM408 272h1.15v1.15h-1.15zM400 273h1.15v1.15h-1.15zM402 273h1.15v1.15h-1.15zM403 273h1.15v1.15h-1.15zM408 273h1.15v1.15h-1.15zM413 273h1.15v1.15h-1.15zM398 274h1.15v1.15h-1.15zM400 274h1.15v1.15h-1.15zM401 274h1.15v1.15h-1.15zM403 274h1.15v1.15h-1.15zM404 274h1.15v1.15h-1.15zM406 274h1.15v1.15h-1.15zM407 274h1.15v1.15h-1.15zM410 274h1.15v1.15h-1.15zM411 274h1.15v1.15h-1.15zM412 274h1.15v1.15h-1.15zM399 275h1.15v1.15h-1.15zM400 275h1.15v1.15h-1.15zM403 275h1.15v1.15h-1.15zM410 275h1.15v1.15h-1.15zM398 276h1.15v1.15h-1.15zM399 276h1.15v1.15h-1.15zM400 276h1.15v1.15h-1.15zM401 276h1.15v1.15h-1.15zM402 276h1.15v1.15h-1.15zM405 276h1.15v1.15h-1.15zM399 277h1.15v1.15h-1.15zM400 277h1.15v1.15h-1.15zM404 277h1.15v1.15h-1.15zM405 277h1.15v1.15h-1.15zM406 277h1.15v1.15h-1.15zM407 277h1.15v1.15h-1.15zM411 277h1.15v1.15h-1.15zM397 278h1.15v1.15h-1.15zM398 278h1.15v1.15h-1.15zM403 278h1.15v1.15h-1.15zM405 278h1.15v1.15h-1.15zM408 278h1.15v1.15h-1.15zM401 279h1.15v1.15h-1.15zM407 279h1.15v1.15h-1.15zM401 280h1.15v1.15h-1.15zM402 280h1.15v1.15h-1.15zM403 280h1.15v1.15h-1.15zM405 280h1.15v1.15h-1.15zM408 280h1.15v1.15h-1.15zM406 281h1.15v1.15h-1.15zM403 282h1.15v1.15h-1.15zM405 282h1.15v1.15h-1.15zM408 282h1.15v1.15h-1.15zM405 283h1.15v1.15h-1.15z" fill="#f0f000"/>
<path d="M410 270h1.15v1.15h-1.15zM401 273h1.15v1.15h-1.15zM404 273h1.15v1.15h-1.15zM407 273h1.15v1.15h-1.15zM409 273h1.15v1.15h-1.15zM402 274h1.15v1.15h-1.15zM405 274h1.15v1.15h-1.15zM408 274h1.15v1.15h-1.15zM401 275h1.15v1.15h-1.15zM402 275h1.15v1.15h-1.15zM404 275h1.15v1.15h-1.15zM407 275h1.15v1.15h-1.15zM408 275h1.15v1.15h-1.15zM404 276h1.15v1.15h-1.15zM408 276h1.15v1.15h-1.15zM401 277h1.15v1.15h-1.15zM402 277h1.15v1.15h-1.15zM403 277h1.15v1.15h-1.15zM408 277h1.15v1.15h-1.15zM401 278h1.15v1.15h-1.15zM402 278h1.15v1.15h-1.15zM406 278h1.15v1.15h-1.15zM402 279h1.15v1.15h-1.15zM403 279h1.15v1.15h-1.15zM404 279h1.15v1.15h-1.15zM405 279h1.15v1.15h-1.15zM407 280h1.15v1.15h-1.15zM405 281h1.15v1.15h-1.15z" fill="#ffa000"/>
<path d="M405 273h1.15v1.15h-1.15zM406 273h1.15v1.15h-1.15zM405 275h1.15v1.15h-1.15zM406 275h1.15v1.15h-1.15zM403 276h1.15v1.15h-1.15zM407 276h1.15v1.15h-1.15zM404 278h1.15v1.15h-1.15z" fill="#ff5000"/>
<rect x="356.4" y="245.3" width="45.8" height="6.2" fill="#fff"/>
<rect x="372.6" y="251.5" width="14" height="7.6" fill="#fff"/>
<path d="M348.8 235.6H413.1V260.2L385 269.8H348.8" fill="none" stroke="#ff78f2" stroke-width="1.3"/>
<text x="379" y="250.6" font-size="6.3" font-weight="bold" text-anchor="middle" fill="#ff40ee" textLength="42.8" lengthAdjust="spacingAndGlyphs">Foxp3+CD127-</text>
<text x="379.4" y="258.7" font-size="6.3" font-weight="bold" text-anchor="middle" fill="#ff40ee">44.1</text>
<rect x="93.7" y="194.3" width="116.60000000000001" height="121.89999999999998" fill="none" stroke="#111" stroke-width="1.3"/>
<path d="M91.7 224.3H93.7M91.7 219.6H93.7M91.7 216.2H93.7M91.7 213.6H93.7M91.7 211.5H93.7M91.7 209.7H93.7M91.7 208.2H93.7M91.7 206.8H93.7M91.7 254.4H93.7M91.7 248.8H93.7M91.7 244.9H93.7M91.7 241.8H93.7M91.7 239.3H93.7M91.7 237.2H93.7M91.7 235.4H93.7M91.7 233.7H93.7M91.7 197.6H93.7M91.7 266.9H93.7M91.7 269.8H93.7M91.7 272.7H93.7M91.7 275.6H93.7M91.7 278.5H93.7M91.7 281.4H93.7M91.7 284.3H93.7M91.7 287.2H93.7M91.7 290.1H93.7M91.7 295.9H93.7M91.7 298.8H93.7M91.7 301.7H93.7M91.7 304.6H93.7M91.7 307.5H93.7M91.7 310.4H93.7M91.7 313.3H93.7M90.2 205.6H93.7M90.2 232.3H93.7M90.2 263.9H93.7M90.2 292.8H93.7" stroke="#111" stroke-width="1" fill="none"/>
<path d="M129.4 316.2V318.2M134.0 316.2V318.2M137.2 316.2V318.2M139.7 316.2V318.2M141.8 316.2V318.2M143.5 316.2V318.2M145.0 316.2V318.2M146.3 316.2V318.2M155.6 316.2V318.2M160.3 316.2V318.2M163.7 316.2V318.2M166.3 316.2V318.2M168.4 316.2V318.2M170.2 316.2V318.2M171.8 316.2V318.2M173.2 316.2V318.2M182.3 316.2V318.2M186.9 316.2V318.2M190.2 316.2V318.2M192.7 316.2V318.2M194.8 316.2V318.2M196.5 316.2V318.2M198.1 316.2V318.2M199.4 316.2V318.2M208.5 316.2V318.2M96.2 316.2V318.2M98.8 316.2V318.2M101.4 316.2V318.2M104.0 316.2V318.2M106.6 316.2V318.2M111.8 316.2V318.2M114.4 316.2V318.2M117.0 316.2V318.2M119.6 316.2V318.2M109.4 316.2V319.7M121.6 316.2V319.7M147.5 316.2V319.7M174.4 316.2V319.7M200.6 316.2V319.7" stroke="#111" stroke-width="1" fill="none"/>
<text x="86.3" y="209.9" font-size="9.7" text-anchor="end" fill="#1a1a1a" stroke="#1a1a1a" stroke-width="0.32">10<tspan font-size="6.4" dy="-3.1">5</tspan></text>
<text x="86.3" y="237.0" font-size="9.7" text-anchor="end" fill="#1a1a1a" stroke="#1a1a1a" stroke-width="0.32">10<tspan font-size="6.4" dy="-3.1">4</tspan></text>
<text x="86.3" y="267.0" font-size="9.7" text-anchor="end" fill="#1a1a1a" stroke="#1a1a1a" stroke-width="0.32">10<tspan font-size="6.4" dy="-3.1">3</tspan></text>
<text x="86.2" y="295.6" font-size="9.3" text-anchor="end" fill="#1a1a1a" stroke="#1a1a1a" stroke-width="0.32">0</text>
<text x="109.4" y="331.3" font-size="9.3" text-anchor="middle" fill="#1a1a1a" stroke="#1a1a1a" stroke-width="0.32">0</text>
<text x="121.5" y="331.5" font-size="9.7" text-anchor="middle" fill="#1a1a1a" stroke="#1a1a1a" stroke-width="0.32">10<tspan font-size="6.4" dy="-3.1">2</tspan></text>
<text x="147.4" y="331.5" font-size="9.7" text-anchor="middle" fill="#1a1a1a" stroke="#1a1a1a" stroke-width="0.32">10<tspan font-size="6.4" dy="-3.1">3</tspan></text>
<text x="174.3" y="331.5" font-size="9.7" text-anchor="middle" fill="#1a1a1a" stroke="#1a1a1a" stroke-width="0.32">10<tspan font-size="6.4" dy="-3.1">4</tspan></text>
<text x="200.5" y="331.5" font-size="9.7" text-anchor="middle" fill="#1a1a1a" stroke="#1a1a1a" stroke-width="0.32">10<tspan font-size="6.4" dy="-3.1">5</tspan></text>
<rect x="348.8" y="199.0" width="116.59999999999997" height="117.0" fill="none" stroke="#111" stroke-width="1.3"/>
<path d="M346.8 228.7H348.8M346.8 223.9H348.8M346.8 220.5H348.8M346.8 217.9H348.8M346.8 215.7H348.8M346.8 213.9H348.8M346.8 212.3H348.8M346.8 210.9H348.8M346.8 255.5H348.8M346.8 250.8H348.8M346.8 247.5H348.8M346.8 244.9H348.8M346.8 242.8H348.8M346.8 241.0H348.8M346.8 239.5H348.8M346.8 238.1H348.8M346.8 201.5H348.8M346.8 266.5H348.8M346.8 269.4H348.8M346.8 272.3H348.8M346.8 275.2H348.8M346.8 278.1H348.8M346.8 281.0H348.8M346.8 283.9H348.8M346.8 286.8H348.8M346.8 289.7H348.8M346.8 292.6H348.8M346.8 298.4H348.8M346.8 301.3H348.8M346.8 304.2H348.8M346.8 307.1H348.8M346.8 310.0H348.8M346.8 312.9H348.8M345.3 209.7H348.8M345.3 236.9H348.8M345.3 263.5H348.8M345.3 294.3H348.8" stroke="#111" stroke-width="1" fill="none"/>
<path d="M384.5 316.0V318.0M389.1 316.0V318.0M392.3 316.0V318.0M394.8 316.0V318.0M396.9 316.0V318.0M398.6 316.0V318.0M400.1 316.0V318.0M401.4 316.0V318.0M410.7 316.0V318.0M415.4 316.0V318.0M418.8 316.0V318.0M421.4 316.0V318.0M423.5 316.0V318.0M425.3 316.0V318.0M426.9 316.0V318.0M428.3 316.0V318.0M437.4 316.0V318.0M442.0 316.0V318.0M445.3 316.0V318.0M447.8 316.0V318.0M449.9 316.0V318.0M451.6 316.0V318.0M453.2 316.0V318.0M454.5 316.0V318.0M463.6 316.0V318.0M351.3 316.0V318.0M353.9 316.0V318.0M356.5 316.0V318.0M359.1 316.0V318.0M361.7 316.0V318.0M366.9 316.0V318.0M369.5 316.0V318.0M372.1 316.0V318.0M374.7 316.0V318.0M364.5 316.0V319.5M376.7 316.0V319.5M402.6 316.0V319.5M429.5 316.0V319.5M455.7 316.0V319.5" stroke="#111" stroke-width="1" fill="none"/>
<text x="341.4" y="214.5" font-size="9.7" text-anchor="end" fill="#1a1a1a" stroke="#1a1a1a" stroke-width="0.32">10<tspan font-size="6.4" dy="-3.1">5</tspan></text>
<text x="341.4" y="240.8" font-size="9.7" text-anchor="end" fill="#1a1a1a" stroke="#1a1a1a" stroke-width="0.32">10<tspan font-size="6.4" dy="-3.1">4</tspan></text>
<text x="341.4" y="266.7" font-size="9.7" text-anchor="end" fill="#1a1a1a" stroke="#1a1a1a" stroke-width="0.32">10<tspan font-size="6.4" dy="-3.1">3</tspan></text>
<text x="341.3" y="297.1" font-size="9.3" text-anchor="end" fill="#1a1a1a" stroke="#1a1a1a" stroke-width="0.32">0</text>
<text x="364.5" y="331.3" font-size="9.3" text-anchor="middle" fill="#1a1a1a" stroke="#1a1a1a" stroke-width="0.32">0</text>
<text x="376.59999999999997" y="331.5" font-size="9.7" text-anchor="middle" fill="#1a1a1a" stroke="#1a1a1a" stroke-width="0.32">10<tspan font-size="6.4" dy="-3.1">2</tspan></text>
<text x="402.5" y="331.5" font-size="9.7" text-anchor="middle" fill="#1a1a1a" stroke="#1a1a1a" stroke-width="0.32">10<tspan font-size="6.4" dy="-3.1">3</tspan></text>
<text x="429.4" y="331.5" font-size="9.7" text-anchor="middle" fill="#1a1a1a" stroke="#1a1a1a" stroke-width="0.32">10<tspan font-size="6.4" dy="-3.1">4</tspan></text>
<text x="455.59999999999997" y="331.5" font-size="9.7" text-anchor="middle" fill="#1a1a1a" stroke="#1a1a1a" stroke-width="0.32">10<tspan font-size="6.4" dy="-3.1">5</tspan></text>
<text transform="translate(64.4,255.4) rotate(-90)" font-size="9.5" text-anchor="middle" fill="#1a1a1a" stroke="#1a1a1a" stroke-width="0.55" textLength="81.2" lengthAdjust="spacingAndGlyphs">&lt;Pacific blue-A&gt;: Foxp3</text>
<text x="152.0" y="346.7" font-size="10.3" text-anchor="middle" fill="#1a1a1a" stroke="#1a1a1a" stroke-width="0.35" textLength="53.8" lengthAdjust="spacingAndGlyphs">&lt;PE-A&gt;: CD127</text>
<text transform="translate(319.20000000000005,257.3) rotate(-90)" font-size="9.5" text-anchor="middle" fill="#1a1a1a" stroke="#1a1a1a" stroke-width="0.55" textLength="82.4" lengthAdjust="spacingAndGlyphs">&lt;Pacific blue-A&gt;: Foxp3</text>
<text x="406.8" y="346.7" font-size="10.3" text-anchor="middle" fill="#1a1a1a" stroke="#1a1a1a" stroke-width="0.35" textLength="53.8" lengthAdjust="spacingAndGlyphs">&lt;PE-A&gt;: CD127</text>
<text x="61.6" y="354.6" font-size="9.8" text-anchor="start" fill="#1a1a1a" stroke="#1a1a1a" stroke-width="0.1">CD4+</text>
<text x="316.5" y="354.6" font-size="9.8" text-anchor="start" fill="#1a1a1a" stroke="#1a1a1a" stroke-width="0.1">CD4+</text>
<path d="M0 0.5H520M0.5 0V365M519.3 0V365M0 364.3H520" stroke="#000" stroke-width="1.4" fill="none"/>
</svg>
</body></html>
